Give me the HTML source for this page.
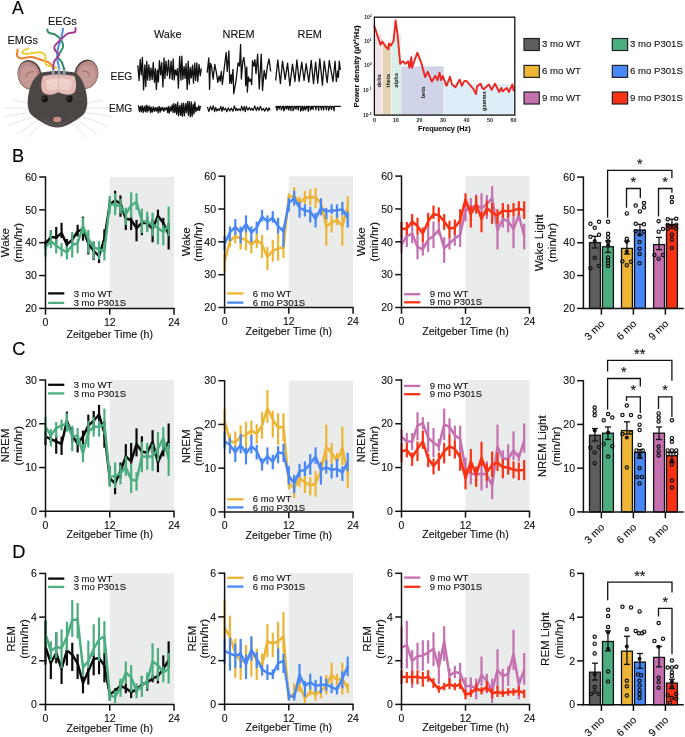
<!DOCTYPE html>
<html><head><meta charset="utf-8"><style>
html,body{margin:0;padding:0;background:#fff;}
svg{display:block;will-change:transform;}
text{font-family:"Liberation Sans", sans-serif;}
</style></head><body>
<svg width="685" height="737" viewBox="0 0 685 737">
<rect width="685" height="737" fill="#fff"/>
<rect x="109.75" y="177.00" width="64.25" height="131.40" fill="#eaebeb"/>
<polyline points="45.50,243.70 50.85,237.10 56.21,237.60 61.56,233.00 66.92,244.70 72.27,239.60 77.62,231.50 82.98,228.90 88.33,243.70 93.69,250.90 99.04,256.00 104.40,238.60 109.75,204.52 115.10,200.44 120.46,203.50 125.81,218.83 131.17,219.85 136.52,228.03 141.88,222.92 147.23,222.92 152.58,229.05 157.94,215.77 163.29,222.92 168.65,234.16" fill="none" stroke="#0a0a0a" stroke-width="2.5" stroke-linejoin="round"/>
<line x1="45.50" y1="240.70" x2="45.50" y2="248.80" stroke="#0a0a0a" stroke-width="2.2"/>
<line x1="50.85" y1="230.40" x2="50.85" y2="243.00" stroke="#0a0a0a" stroke-width="2.2"/>
<line x1="56.21" y1="227.00" x2="56.21" y2="244.00" stroke="#0a0a0a" stroke-width="2.2"/>
<line x1="61.56" y1="222.80" x2="61.56" y2="238.00" stroke="#0a0a0a" stroke-width="2.2"/>
<line x1="66.92" y1="239.00" x2="66.92" y2="250.00" stroke="#0a0a0a" stroke-width="2.2"/>
<line x1="72.27" y1="234.50" x2="72.27" y2="243.70" stroke="#0a0a0a" stroke-width="2.2"/>
<line x1="77.62" y1="224.80" x2="77.62" y2="236.60" stroke="#0a0a0a" stroke-width="2.2"/>
<line x1="82.98" y1="216.60" x2="82.98" y2="240.70" stroke="#0a0a0a" stroke-width="2.2"/>
<line x1="88.33" y1="240.70" x2="88.33" y2="254.50" stroke="#0a0a0a" stroke-width="2.2"/>
<line x1="93.69" y1="241.70" x2="93.69" y2="260.10" stroke="#0a0a0a" stroke-width="2.2"/>
<line x1="99.04" y1="248.80" x2="99.04" y2="263.10" stroke="#0a0a0a" stroke-width="2.2"/>
<line x1="104.40" y1="229.40" x2="104.40" y2="243.70" stroke="#0a0a0a" stroke-width="2.2"/>
<line x1="109.75" y1="199.52" x2="109.75" y2="209.52" stroke="#0a0a0a" stroke-width="2.2"/>
<line x1="115.10" y1="190.73" x2="115.10" y2="209.63" stroke="#0a0a0a" stroke-width="2.2"/>
<line x1="120.46" y1="195.33" x2="120.46" y2="216.79" stroke="#0a0a0a" stroke-width="2.2"/>
<line x1="125.81" y1="210.66" x2="125.81" y2="230.07" stroke="#0a0a0a" stroke-width="2.2"/>
<line x1="131.17" y1="216.79" x2="131.17" y2="230.07" stroke="#0a0a0a" stroke-width="2.2"/>
<line x1="136.52" y1="219.85" x2="136.52" y2="241.31" stroke="#0a0a0a" stroke-width="2.2"/>
<line x1="141.88" y1="213.72" x2="141.88" y2="235.18" stroke="#0a0a0a" stroke-width="2.2"/>
<line x1="147.23" y1="216.79" x2="147.23" y2="229.05" stroke="#0a0a0a" stroke-width="2.2"/>
<line x1="152.58" y1="218.83" x2="152.58" y2="242.33" stroke="#0a0a0a" stroke-width="2.2"/>
<line x1="157.94" y1="209.63" x2="157.94" y2="222.92" stroke="#0a0a0a" stroke-width="2.2"/>
<line x1="163.29" y1="217.81" x2="163.29" y2="228.03" stroke="#0a0a0a" stroke-width="2.2"/>
<line x1="168.65" y1="222.92" x2="168.65" y2="249.49" stroke="#0a0a0a" stroke-width="2.2"/>
<polyline points="45.50,247.22 50.85,241.09 56.21,245.69 61.56,249.27 66.92,252.33 72.27,245.18 77.62,243.14 82.98,226.28 88.33,239.05 93.69,247.22 99.04,249.27 104.40,251.31 109.75,204.52 115.10,204.52 120.46,206.57 125.81,213.72 131.17,205.55 136.52,201.97 141.88,220.87 147.23,221.90 152.58,224.96 157.94,228.03 163.29,232.12 168.65,224.96" fill="none" stroke="#4cae80" stroke-width="2.5" stroke-linejoin="round"/>
<line x1="45.50" y1="245.18" x2="45.50" y2="256.42" stroke="#4cae80" stroke-width="2.2"/>
<line x1="50.85" y1="230.87" x2="50.85" y2="248.25" stroke="#4cae80" stroke-width="2.2"/>
<line x1="56.21" y1="239.05" x2="56.21" y2="253.36" stroke="#4cae80" stroke-width="2.2"/>
<line x1="61.56" y1="243.14" x2="61.56" y2="256.42" stroke="#4cae80" stroke-width="2.2"/>
<line x1="66.92" y1="246.20" x2="66.92" y2="259.49" stroke="#4cae80" stroke-width="2.2"/>
<line x1="72.27" y1="231.90" x2="72.27" y2="257.44" stroke="#4cae80" stroke-width="2.2"/>
<line x1="77.62" y1="239.05" x2="77.62" y2="253.36" stroke="#4cae80" stroke-width="2.2"/>
<line x1="82.98" y1="217.59" x2="82.98" y2="233.94" stroke="#4cae80" stroke-width="2.2"/>
<line x1="88.33" y1="229.85" x2="88.33" y2="253.36" stroke="#4cae80" stroke-width="2.2"/>
<line x1="93.69" y1="241.09" x2="93.69" y2="259.49" stroke="#4cae80" stroke-width="2.2"/>
<line x1="99.04" y1="241.09" x2="99.04" y2="259.49" stroke="#4cae80" stroke-width="2.2"/>
<line x1="104.40" y1="242.12" x2="104.40" y2="260.51" stroke="#4cae80" stroke-width="2.2"/>
<line x1="109.75" y1="195.84" x2="109.75" y2="213.72" stroke="#4cae80" stroke-width="2.2"/>
<line x1="115.10" y1="193.28" x2="115.10" y2="215.25" stroke="#4cae80" stroke-width="2.2"/>
<line x1="120.46" y1="198.90" x2="120.46" y2="213.72" stroke="#4cae80" stroke-width="2.2"/>
<line x1="125.81" y1="207.59" x2="125.81" y2="224.96" stroke="#4cae80" stroke-width="2.2"/>
<line x1="131.17" y1="192.26" x2="131.17" y2="217.81" stroke="#4cae80" stroke-width="2.2"/>
<line x1="136.52" y1="193.28" x2="136.52" y2="209.63" stroke="#4cae80" stroke-width="2.2"/>
<line x1="141.88" y1="208.61" x2="141.88" y2="233.14" stroke="#4cae80" stroke-width="2.2"/>
<line x1="147.23" y1="211.68" x2="147.23" y2="232.12" stroke="#4cae80" stroke-width="2.2"/>
<line x1="152.58" y1="212.70" x2="152.58" y2="236.20" stroke="#4cae80" stroke-width="2.2"/>
<line x1="157.94" y1="217.81" x2="157.94" y2="244.38" stroke="#4cae80" stroke-width="2.2"/>
<line x1="163.29" y1="224.96" x2="163.29" y2="245.40" stroke="#4cae80" stroke-width="2.2"/>
<line x1="168.65" y1="206.57" x2="168.65" y2="236.20" stroke="#4cae80" stroke-width="2.2"/>
<line x1="45.50" y1="176.40" x2="45.50" y2="309.05" stroke="#111" stroke-width="1.5" stroke-linecap="butt"/>
<line x1="44.85" y1="308.40" x2="174.65" y2="308.40" stroke="#111" stroke-width="1.5" stroke-linecap="butt"/>
<line x1="39.20" y1="308.40" x2="45.50" y2="308.40" stroke="#111" stroke-width="1.5" stroke-linecap="butt"/>
<text x="36.90" y="312.10" font-size="10.5" text-anchor="end" font-weight="normal" fill="#111" stroke="#111" stroke-width="0.12">20</text>
<line x1="39.20" y1="275.55" x2="45.50" y2="275.55" stroke="#111" stroke-width="1.5" stroke-linecap="butt"/>
<text x="36.90" y="279.25" font-size="10.5" text-anchor="end" font-weight="normal" fill="#111" stroke="#111" stroke-width="0.12">30</text>
<line x1="39.20" y1="242.70" x2="45.50" y2="242.70" stroke="#111" stroke-width="1.5" stroke-linecap="butt"/>
<text x="36.90" y="246.40" font-size="10.5" text-anchor="end" font-weight="normal" fill="#111" stroke="#111" stroke-width="0.12">40</text>
<line x1="39.20" y1="209.85" x2="45.50" y2="209.85" stroke="#111" stroke-width="1.5" stroke-linecap="butt"/>
<text x="36.90" y="213.55" font-size="10.5" text-anchor="end" font-weight="normal" fill="#111" stroke="#111" stroke-width="0.12">50</text>
<line x1="39.20" y1="177.00" x2="45.50" y2="177.00" stroke="#111" stroke-width="1.5" stroke-linecap="butt"/>
<text x="36.90" y="180.70" font-size="10.5" text-anchor="end" font-weight="normal" fill="#111" stroke="#111" stroke-width="0.12">60</text>
<line x1="45.50" y1="308.40" x2="45.50" y2="314.70" stroke="#111" stroke-width="1.5" stroke-linecap="butt"/>
<text x="45.50" y="325.80" font-size="10.5" text-anchor="middle" font-weight="normal" fill="#111" stroke="#111" stroke-width="0.12">0</text>
<line x1="109.75" y1="308.40" x2="109.75" y2="314.70" stroke="#111" stroke-width="1.5" stroke-linecap="butt"/>
<text x="109.75" y="325.80" font-size="10.5" text-anchor="middle" font-weight="normal" fill="#111" stroke="#111" stroke-width="0.12">12</text>
<line x1="174.00" y1="308.40" x2="174.00" y2="314.70" stroke="#111" stroke-width="1.5" stroke-linecap="butt"/>
<text x="174.00" y="325.80" font-size="10.5" text-anchor="middle" font-weight="normal" fill="#111" stroke="#111" stroke-width="0.12">24</text>
<text x="109.75" y="338.40" font-size="10.6" text-anchor="middle" font-weight="normal" fill="#111" stroke="#111" stroke-width="0.12">Zeitgeber Time (h)</text>
<line x1="48.10" y1="293.40" x2="64.30" y2="293.40" stroke="#0a0a0a" stroke-width="2.3" stroke-linecap="butt"/>
<text x="73.70" y="296.50" font-size="9.5" text-anchor="start" font-weight="normal" fill="#111" stroke="#111" stroke-width="0.12">3 mo WT</text>
<line x1="48.10" y1="302.90" x2="64.30" y2="302.90" stroke="#4cae80" stroke-width="2.3" stroke-linecap="butt"/>
<text x="73.70" y="306.00" font-size="9.5" text-anchor="start" font-weight="normal" fill="#111" stroke="#111" stroke-width="0.12">3 mo P301S</text>
<text x="9.40" y="242.70" font-size="11.5" text-anchor="middle" font-weight="normal" fill="#111" stroke="#111" stroke-width="0.12" transform="rotate(-90 9.40 242.70)">Wake</text>
<text x="21.80" y="242.70" font-size="11.5" text-anchor="middle" font-weight="normal" fill="#111" stroke="#111" stroke-width="0.12" transform="rotate(-90 21.80 242.70)">(min/hr)</text>
<rect x="288.82" y="176.20" width="64.23" height="131.30" fill="#eaebeb"/>
<polyline points="224.60,262.01 229.95,241.02 235.30,236.14 240.66,238.58 246.01,239.80 251.36,244.68 256.71,239.80 262.06,244.68 267.42,256.89 272.77,250.78 278.12,248.34 283.47,247.73 288.82,196.97 294.18,195.75 299.53,202.46 304.88,198.19 310.23,196.97 315.59,197.58 320.94,203.07 326.29,226.26 331.64,222.60 336.99,220.15 342.35,226.26 347.70,206.73" fill="none" stroke="#ecb536" stroke-width="2.5" stroke-linejoin="round"/>
<line x1="224.60" y1="253.22" x2="224.60" y2="272.75" stroke="#ecb536" stroke-width="2.2"/>
<line x1="229.95" y1="236.14" x2="229.95" y2="247.12" stroke="#ecb536" stroke-width="2.2"/>
<line x1="235.30" y1="232.48" x2="235.30" y2="243.46" stroke="#ecb536" stroke-width="2.2"/>
<line x1="240.66" y1="233.70" x2="240.66" y2="249.56" stroke="#ecb536" stroke-width="2.2"/>
<line x1="246.01" y1="230.04" x2="246.01" y2="250.17" stroke="#ecb536" stroke-width="2.2"/>
<line x1="251.36" y1="238.58" x2="251.36" y2="253.22" stroke="#ecb536" stroke-width="2.2"/>
<line x1="256.71" y1="233.70" x2="256.71" y2="248.34" stroke="#ecb536" stroke-width="2.2"/>
<line x1="262.06" y1="234.92" x2="262.06" y2="258.11" stroke="#ecb536" stroke-width="2.2"/>
<line x1="267.42" y1="247.12" x2="267.42" y2="269.94" stroke="#ecb536" stroke-width="2.2"/>
<line x1="272.77" y1="239.80" x2="272.77" y2="261.77" stroke="#ecb536" stroke-width="2.2"/>
<line x1="278.12" y1="233.70" x2="278.12" y2="260.55" stroke="#ecb536" stroke-width="2.2"/>
<line x1="283.47" y1="238.58" x2="283.47" y2="258.11" stroke="#ecb536" stroke-width="2.2"/>
<line x1="288.82" y1="193.31" x2="288.82" y2="199.41" stroke="#ecb536" stroke-width="2.2"/>
<line x1="294.18" y1="187.20" x2="294.18" y2="199.41" stroke="#ecb536" stroke-width="2.2"/>
<line x1="299.53" y1="196.97" x2="299.53" y2="205.51" stroke="#ecb536" stroke-width="2.2"/>
<line x1="304.88" y1="190.87" x2="304.88" y2="204.29" stroke="#ecb536" stroke-width="2.2"/>
<line x1="310.23" y1="189.03" x2="310.23" y2="205.51" stroke="#ecb536" stroke-width="2.2"/>
<line x1="315.59" y1="187.81" x2="315.59" y2="207.95" stroke="#ecb536" stroke-width="2.2"/>
<line x1="320.94" y1="199.41" x2="320.94" y2="212.83" stroke="#ecb536" stroke-width="2.2"/>
<line x1="326.29" y1="215.27" x2="326.29" y2="245.78" stroke="#ecb536" stroke-width="2.2"/>
<line x1="331.64" y1="215.27" x2="331.64" y2="232.36" stroke="#ecb536" stroke-width="2.2"/>
<line x1="336.99" y1="214.05" x2="336.99" y2="225.04" stroke="#ecb536" stroke-width="2.2"/>
<line x1="342.35" y1="215.27" x2="342.35" y2="245.78" stroke="#ecb536" stroke-width="2.2"/>
<line x1="347.70" y1="196.36" x2="347.70" y2="216.49" stroke="#ecb536" stroke-width="2.2"/>
<polyline points="224.60,243.46 229.95,232.48 235.30,226.99 240.66,232.48 246.01,223.93 251.36,232.48 256.71,227.60 262.06,216.61 267.42,221.49 272.77,217.83 278.12,226.38 283.47,231.26 288.82,203.07 294.18,198.19 299.53,207.95 304.88,210.39 310.23,211.61 315.59,218.93 320.94,207.95 326.29,211.61 331.64,210.39 336.99,210.39 342.35,209.17 347.70,217.71" fill="none" stroke="#4a87f6" stroke-width="2.5" stroke-linejoin="round"/>
<line x1="224.60" y1="236.14" x2="224.60" y2="250.78" stroke="#4a87f6" stroke-width="2.2"/>
<line x1="229.95" y1="226.38" x2="229.95" y2="241.02" stroke="#4a87f6" stroke-width="2.2"/>
<line x1="235.30" y1="219.05" x2="235.30" y2="234.92" stroke="#4a87f6" stroke-width="2.2"/>
<line x1="240.66" y1="226.38" x2="240.66" y2="243.46" stroke="#4a87f6" stroke-width="2.2"/>
<line x1="246.01" y1="215.39" x2="246.01" y2="232.48" stroke="#4a87f6" stroke-width="2.2"/>
<line x1="251.36" y1="226.38" x2="251.36" y2="242.24" stroke="#4a87f6" stroke-width="2.2"/>
<line x1="256.71" y1="221.49" x2="256.71" y2="233.70" stroke="#4a87f6" stroke-width="2.2"/>
<line x1="262.06" y1="209.90" x2="262.06" y2="221.49" stroke="#4a87f6" stroke-width="2.2"/>
<line x1="267.42" y1="215.39" x2="267.42" y2="230.04" stroke="#4a87f6" stroke-width="2.2"/>
<line x1="272.77" y1="211.12" x2="272.77" y2="222.71" stroke="#4a87f6" stroke-width="2.2"/>
<line x1="278.12" y1="217.83" x2="278.12" y2="233.70" stroke="#4a87f6" stroke-width="2.2"/>
<line x1="283.47" y1="226.38" x2="283.47" y2="247.12" stroke="#4a87f6" stroke-width="2.2"/>
<line x1="288.82" y1="198.19" x2="288.82" y2="211.61" stroke="#4a87f6" stroke-width="2.2"/>
<line x1="294.18" y1="190.87" x2="294.18" y2="205.51" stroke="#4a87f6" stroke-width="2.2"/>
<line x1="299.53" y1="201.85" x2="299.53" y2="217.71" stroke="#4a87f6" stroke-width="2.2"/>
<line x1="304.88" y1="204.29" x2="304.88" y2="216.49" stroke="#4a87f6" stroke-width="2.2"/>
<line x1="310.23" y1="206.73" x2="310.23" y2="222.60" stroke="#4a87f6" stroke-width="2.2"/>
<line x1="315.59" y1="212.83" x2="315.59" y2="227.48" stroke="#4a87f6" stroke-width="2.2"/>
<line x1="320.94" y1="198.19" x2="320.94" y2="215.27" stroke="#4a87f6" stroke-width="2.2"/>
<line x1="326.29" y1="207.95" x2="326.29" y2="218.93" stroke="#4a87f6" stroke-width="2.2"/>
<line x1="331.64" y1="204.29" x2="331.64" y2="214.05" stroke="#4a87f6" stroke-width="2.2"/>
<line x1="336.99" y1="204.29" x2="336.99" y2="217.71" stroke="#4a87f6" stroke-width="2.2"/>
<line x1="342.35" y1="201.85" x2="342.35" y2="215.27" stroke="#4a87f6" stroke-width="2.2"/>
<line x1="347.70" y1="211.61" x2="347.70" y2="227.48" stroke="#4a87f6" stroke-width="2.2"/>
<line x1="224.60" y1="175.60" x2="224.60" y2="308.15" stroke="#111" stroke-width="1.5" stroke-linecap="butt"/>
<line x1="223.95" y1="307.50" x2="353.70" y2="307.50" stroke="#111" stroke-width="1.5" stroke-linecap="butt"/>
<line x1="218.30" y1="307.50" x2="224.60" y2="307.50" stroke="#111" stroke-width="1.5" stroke-linecap="butt"/>
<text x="216.00" y="311.20" font-size="10.5" text-anchor="end" font-weight="normal" fill="#111" stroke="#111" stroke-width="0.12">20</text>
<line x1="218.30" y1="274.68" x2="224.60" y2="274.68" stroke="#111" stroke-width="1.5" stroke-linecap="butt"/>
<text x="216.00" y="278.38" font-size="10.5" text-anchor="end" font-weight="normal" fill="#111" stroke="#111" stroke-width="0.12">30</text>
<line x1="218.30" y1="241.85" x2="224.60" y2="241.85" stroke="#111" stroke-width="1.5" stroke-linecap="butt"/>
<text x="216.00" y="245.55" font-size="10.5" text-anchor="end" font-weight="normal" fill="#111" stroke="#111" stroke-width="0.12">40</text>
<line x1="218.30" y1="209.02" x2="224.60" y2="209.02" stroke="#111" stroke-width="1.5" stroke-linecap="butt"/>
<text x="216.00" y="212.72" font-size="10.5" text-anchor="end" font-weight="normal" fill="#111" stroke="#111" stroke-width="0.12">50</text>
<line x1="218.30" y1="176.20" x2="224.60" y2="176.20" stroke="#111" stroke-width="1.5" stroke-linecap="butt"/>
<text x="216.00" y="179.90" font-size="10.5" text-anchor="end" font-weight="normal" fill="#111" stroke="#111" stroke-width="0.12">60</text>
<line x1="224.60" y1="307.50" x2="224.60" y2="313.80" stroke="#111" stroke-width="1.5" stroke-linecap="butt"/>
<text x="224.60" y="325.10" font-size="10.5" text-anchor="middle" font-weight="normal" fill="#111" stroke="#111" stroke-width="0.12">0</text>
<line x1="288.82" y1="307.50" x2="288.82" y2="313.80" stroke="#111" stroke-width="1.5" stroke-linecap="butt"/>
<text x="288.82" y="325.10" font-size="10.5" text-anchor="middle" font-weight="normal" fill="#111" stroke="#111" stroke-width="0.12">12</text>
<line x1="353.05" y1="307.50" x2="353.05" y2="313.80" stroke="#111" stroke-width="1.5" stroke-linecap="butt"/>
<text x="353.05" y="325.10" font-size="10.5" text-anchor="middle" font-weight="normal" fill="#111" stroke="#111" stroke-width="0.12">24</text>
<text x="288.82" y="334.50" font-size="10.6" text-anchor="middle" font-weight="normal" fill="#111" stroke="#111" stroke-width="0.12">Zeitgeber Time (h)</text>
<line x1="227.20" y1="293.40" x2="243.40" y2="293.40" stroke="#ecb536" stroke-width="2.3" stroke-linecap="butt"/>
<text x="252.80" y="296.50" font-size="9.5" text-anchor="start" font-weight="normal" fill="#111" stroke="#111" stroke-width="0.12">6 mo WT</text>
<line x1="227.20" y1="302.60" x2="243.40" y2="302.60" stroke="#4a87f6" stroke-width="2.3" stroke-linecap="butt"/>
<text x="252.80" y="305.70" font-size="9.5" text-anchor="start" font-weight="normal" fill="#111" stroke="#111" stroke-width="0.12">6 mo P301S</text>
<text x="189.90" y="241.85" font-size="11.5" text-anchor="middle" font-weight="normal" fill="#111" stroke="#111" stroke-width="0.12" transform="rotate(-90 189.90 241.85)">Wake</text>
<text x="201.60" y="241.85" font-size="11.5" text-anchor="middle" font-weight="normal" fill="#111" stroke="#111" stroke-width="0.12" transform="rotate(-90 201.60 241.85)">(min/hr)</text>
<rect x="465.50" y="176.10" width="64.00" height="131.40" fill="#eaebeb"/>
<polyline points="401.50,244.56 406.83,236.02 412.17,233.58 417.50,247.00 422.83,249.44 428.17,239.68 433.50,236.02 438.83,229.92 444.17,248.22 449.50,243.34 454.83,238.46 460.17,234.80 465.50,210.39 470.83,207.95 476.17,205.51 481.50,207.95 486.83,204.29 492.17,198.19 497.50,229.92 502.83,218.93 508.17,221.38 513.50,228.70 518.83,215.27 524.17,236.02" fill="none" stroke="#c571b0" stroke-width="2.5" stroke-linejoin="round"/>
<line x1="401.50" y1="236.02" x2="401.50" y2="253.11" stroke="#c571b0" stroke-width="2.2"/>
<line x1="406.83" y1="228.70" x2="406.83" y2="247.00" stroke="#c571b0" stroke-width="2.2"/>
<line x1="412.17" y1="226.26" x2="412.17" y2="243.34" stroke="#c571b0" stroke-width="2.2"/>
<line x1="417.50" y1="234.80" x2="417.50" y2="259.21" stroke="#c571b0" stroke-width="2.2"/>
<line x1="422.83" y1="242.12" x2="422.83" y2="255.55" stroke="#c571b0" stroke-width="2.2"/>
<line x1="428.17" y1="225.04" x2="428.17" y2="251.89" stroke="#c571b0" stroke-width="2.2"/>
<line x1="433.50" y1="221.38" x2="433.50" y2="248.22" stroke="#c571b0" stroke-width="2.2"/>
<line x1="438.83" y1="222.60" x2="438.83" y2="234.80" stroke="#c571b0" stroke-width="2.2"/>
<line x1="444.17" y1="237.24" x2="444.17" y2="262.87" stroke="#c571b0" stroke-width="2.2"/>
<line x1="449.50" y1="238.46" x2="449.50" y2="249.44" stroke="#c571b0" stroke-width="2.2"/>
<line x1="454.83" y1="229.92" x2="454.83" y2="245.78" stroke="#c571b0" stroke-width="2.2"/>
<line x1="460.17" y1="223.82" x2="460.17" y2="247.00" stroke="#c571b0" stroke-width="2.2"/>
<line x1="465.50" y1="199.41" x2="465.50" y2="221.38" stroke="#c571b0" stroke-width="2.2"/>
<line x1="470.83" y1="198.19" x2="470.83" y2="220.15" stroke="#c571b0" stroke-width="2.2"/>
<line x1="476.17" y1="194.53" x2="476.17" y2="214.05" stroke="#c571b0" stroke-width="2.2"/>
<line x1="481.50" y1="193.31" x2="481.50" y2="212.83" stroke="#c571b0" stroke-width="2.2"/>
<line x1="486.83" y1="195.14" x2="486.83" y2="218.93" stroke="#c571b0" stroke-width="2.2"/>
<line x1="492.17" y1="185.98" x2="492.17" y2="209.17" stroke="#c571b0" stroke-width="2.2"/>
<line x1="497.50" y1="215.27" x2="497.50" y2="249.44" stroke="#c571b0" stroke-width="2.2"/>
<line x1="502.83" y1="215.27" x2="502.83" y2="227.48" stroke="#c571b0" stroke-width="2.2"/>
<line x1="508.17" y1="214.05" x2="508.17" y2="232.36" stroke="#c571b0" stroke-width="2.2"/>
<line x1="513.50" y1="216.49" x2="513.50" y2="248.22" stroke="#c571b0" stroke-width="2.2"/>
<line x1="518.83" y1="211.61" x2="518.83" y2="218.93" stroke="#c571b0" stroke-width="2.2"/>
<line x1="524.17" y1="223.82" x2="524.17" y2="249.44" stroke="#c571b0" stroke-width="2.2"/>
<polyline points="401.50,228.70 406.83,228.70 412.17,221.38 417.50,226.26 422.83,233.58 428.17,221.38 433.50,214.05 438.83,215.27 444.17,221.38 449.50,228.70 454.83,227.48 460.17,220.15 465.50,199.41 470.83,214.05 476.17,204.29 481.50,218.93 486.83,207.95 492.17,212.83 497.50,215.27 502.83,210.39 508.17,211.61 513.50,210.39 518.83,208.56 524.17,210.39" fill="none" stroke="#f93214" stroke-width="2.5" stroke-linejoin="round"/>
<line x1="401.50" y1="221.99" x2="401.50" y2="237.24" stroke="#f93214" stroke-width="2.2"/>
<line x1="406.83" y1="221.99" x2="406.83" y2="234.80" stroke="#f93214" stroke-width="2.2"/>
<line x1="412.17" y1="214.05" x2="412.17" y2="226.26" stroke="#f93214" stroke-width="2.2"/>
<line x1="417.50" y1="217.71" x2="417.50" y2="234.80" stroke="#f93214" stroke-width="2.2"/>
<line x1="422.83" y1="227.48" x2="422.83" y2="242.12" stroke="#f93214" stroke-width="2.2"/>
<line x1="428.17" y1="212.83" x2="428.17" y2="226.26" stroke="#f93214" stroke-width="2.2"/>
<line x1="433.50" y1="205.51" x2="433.50" y2="218.93" stroke="#f93214" stroke-width="2.2"/>
<line x1="438.83" y1="207.34" x2="438.83" y2="222.60" stroke="#f93214" stroke-width="2.2"/>
<line x1="444.17" y1="214.05" x2="444.17" y2="229.92" stroke="#f93214" stroke-width="2.2"/>
<line x1="449.50" y1="220.77" x2="449.50" y2="238.46" stroke="#f93214" stroke-width="2.2"/>
<line x1="454.83" y1="219.54" x2="454.83" y2="234.80" stroke="#f93214" stroke-width="2.2"/>
<line x1="460.17" y1="209.17" x2="460.17" y2="223.82" stroke="#f93214" stroke-width="2.2"/>
<line x1="465.50" y1="193.31" x2="465.50" y2="206.73" stroke="#f93214" stroke-width="2.2"/>
<line x1="470.83" y1="205.51" x2="470.83" y2="227.48" stroke="#f93214" stroke-width="2.2"/>
<line x1="476.17" y1="195.75" x2="476.17" y2="212.83" stroke="#f93214" stroke-width="2.2"/>
<line x1="481.50" y1="211.61" x2="481.50" y2="232.36" stroke="#f93214" stroke-width="2.2"/>
<line x1="486.83" y1="200.63" x2="486.83" y2="215.27" stroke="#f93214" stroke-width="2.2"/>
<line x1="492.17" y1="203.07" x2="492.17" y2="223.82" stroke="#f93214" stroke-width="2.2"/>
<line x1="497.50" y1="209.17" x2="497.50" y2="223.82" stroke="#f93214" stroke-width="2.2"/>
<line x1="502.83" y1="203.07" x2="502.83" y2="217.71" stroke="#f93214" stroke-width="2.2"/>
<line x1="508.17" y1="204.29" x2="508.17" y2="217.71" stroke="#f93214" stroke-width="2.2"/>
<line x1="513.50" y1="203.07" x2="513.50" y2="216.49" stroke="#f93214" stroke-width="2.2"/>
<line x1="518.83" y1="201.24" x2="518.83" y2="215.27" stroke="#f93214" stroke-width="2.2"/>
<line x1="524.17" y1="201.24" x2="524.17" y2="218.93" stroke="#f93214" stroke-width="2.2"/>
<line x1="401.50" y1="175.50" x2="401.50" y2="308.15" stroke="#111" stroke-width="1.5" stroke-linecap="butt"/>
<line x1="400.85" y1="307.50" x2="530.15" y2="307.50" stroke="#111" stroke-width="1.5" stroke-linecap="butt"/>
<line x1="395.20" y1="307.50" x2="401.50" y2="307.50" stroke="#111" stroke-width="1.5" stroke-linecap="butt"/>
<text x="392.90" y="311.20" font-size="10.5" text-anchor="end" font-weight="normal" fill="#111" stroke="#111" stroke-width="0.12">20</text>
<line x1="395.20" y1="274.65" x2="401.50" y2="274.65" stroke="#111" stroke-width="1.5" stroke-linecap="butt"/>
<text x="392.90" y="278.35" font-size="10.5" text-anchor="end" font-weight="normal" fill="#111" stroke="#111" stroke-width="0.12">30</text>
<line x1="395.20" y1="241.80" x2="401.50" y2="241.80" stroke="#111" stroke-width="1.5" stroke-linecap="butt"/>
<text x="392.90" y="245.50" font-size="10.5" text-anchor="end" font-weight="normal" fill="#111" stroke="#111" stroke-width="0.12">40</text>
<line x1="395.20" y1="208.95" x2="401.50" y2="208.95" stroke="#111" stroke-width="1.5" stroke-linecap="butt"/>
<text x="392.90" y="212.65" font-size="10.5" text-anchor="end" font-weight="normal" fill="#111" stroke="#111" stroke-width="0.12">50</text>
<line x1="395.20" y1="176.10" x2="401.50" y2="176.10" stroke="#111" stroke-width="1.5" stroke-linecap="butt"/>
<text x="392.90" y="179.80" font-size="10.5" text-anchor="end" font-weight="normal" fill="#111" stroke="#111" stroke-width="0.12">60</text>
<line x1="401.50" y1="307.50" x2="401.50" y2="313.80" stroke="#111" stroke-width="1.5" stroke-linecap="butt"/>
<text x="401.50" y="325.10" font-size="10.5" text-anchor="middle" font-weight="normal" fill="#111" stroke="#111" stroke-width="0.12">0</text>
<line x1="465.50" y1="307.50" x2="465.50" y2="313.80" stroke="#111" stroke-width="1.5" stroke-linecap="butt"/>
<text x="465.50" y="325.10" font-size="10.5" text-anchor="middle" font-weight="normal" fill="#111" stroke="#111" stroke-width="0.12">12</text>
<line x1="529.50" y1="307.50" x2="529.50" y2="313.80" stroke="#111" stroke-width="1.5" stroke-linecap="butt"/>
<text x="529.50" y="325.10" font-size="10.5" text-anchor="middle" font-weight="normal" fill="#111" stroke="#111" stroke-width="0.12">24</text>
<text x="465.50" y="334.50" font-size="10.6" text-anchor="middle" font-weight="normal" fill="#111" stroke="#111" stroke-width="0.12">Zeitgeber Time (h)</text>
<line x1="404.10" y1="294.20" x2="420.30" y2="294.20" stroke="#c571b0" stroke-width="2.3" stroke-linecap="butt"/>
<text x="429.70" y="297.30" font-size="9.5" text-anchor="start" font-weight="normal" fill="#111" stroke="#111" stroke-width="0.12">9 mo WT</text>
<line x1="404.10" y1="302.30" x2="420.30" y2="302.30" stroke="#f93214" stroke-width="2.3" stroke-linecap="butt"/>
<text x="429.70" y="305.40" font-size="9.5" text-anchor="start" font-weight="normal" fill="#111" stroke="#111" stroke-width="0.12">9 mo P301S</text>
<text x="364.80" y="241.80" font-size="11.5" text-anchor="middle" font-weight="normal" fill="#111" stroke="#111" stroke-width="0.12" transform="rotate(-90 364.80 241.80)">Wake</text>
<text x="378.30" y="241.80" font-size="11.5" text-anchor="middle" font-weight="normal" fill="#111" stroke="#111" stroke-width="0.12" transform="rotate(-90 378.30 241.80)">(min/hr)</text>
<rect x="109.75" y="380.00" width="64.25" height="131.30" fill="#eaebeb"/>
<polyline points="45.50,436.61 50.85,439.05 56.21,441.49 61.56,443.93 66.92,420.75 72.27,435.39 77.62,443.93 82.98,436.61 88.33,425.63 93.69,420.75 99.04,414.64 104.40,432.95 109.75,478.34 115.10,483.22 120.46,471.02 125.81,456.38 131.17,461.26 136.52,444.17 141.88,451.49 147.23,452.71 152.58,441.73 157.94,462.48 163.29,450.27 168.65,441.73" fill="none" stroke="#0a0a0a" stroke-width="2.5" stroke-linejoin="round"/>
<line x1="45.50" y1="430.51" x2="45.50" y2="445.15" stroke="#0a0a0a" stroke-width="2.2"/>
<line x1="50.85" y1="434.17" x2="50.85" y2="442.71" stroke="#0a0a0a" stroke-width="2.2"/>
<line x1="56.21" y1="435.39" x2="56.21" y2="453.70" stroke="#0a0a0a" stroke-width="2.2"/>
<line x1="61.56" y1="436.61" x2="61.56" y2="454.92" stroke="#0a0a0a" stroke-width="2.2"/>
<line x1="66.92" y1="411.59" x2="66.92" y2="428.07" stroke="#0a0a0a" stroke-width="2.2"/>
<line x1="72.27" y1="428.07" x2="72.27" y2="442.71" stroke="#0a0a0a" stroke-width="2.2"/>
<line x1="77.62" y1="437.83" x2="77.62" y2="452.48" stroke="#0a0a0a" stroke-width="2.2"/>
<line x1="82.98" y1="430.51" x2="82.98" y2="448.82" stroke="#0a0a0a" stroke-width="2.2"/>
<line x1="88.33" y1="414.64" x2="88.33" y2="434.17" stroke="#0a0a0a" stroke-width="2.2"/>
<line x1="93.69" y1="410.98" x2="93.69" y2="430.51" stroke="#0a0a0a" stroke-width="2.2"/>
<line x1="99.04" y1="404.88" x2="99.04" y2="423.19" stroke="#0a0a0a" stroke-width="2.2"/>
<line x1="104.40" y1="420.75" x2="104.40" y2="447.60" stroke="#0a0a0a" stroke-width="2.2"/>
<line x1="109.75" y1="466.14" x2="109.75" y2="485.67" stroke="#0a0a0a" stroke-width="2.2"/>
<line x1="115.10" y1="475.90" x2="115.10" y2="494.21" stroke="#0a0a0a" stroke-width="2.2"/>
<line x1="120.46" y1="462.48" x2="120.46" y2="478.34" stroke="#0a0a0a" stroke-width="2.2"/>
<line x1="125.81" y1="444.17" x2="125.81" y2="467.36" stroke="#0a0a0a" stroke-width="2.2"/>
<line x1="131.17" y1="442.95" x2="131.17" y2="463.70" stroke="#0a0a0a" stroke-width="2.2"/>
<line x1="136.52" y1="428.31" x2="136.52" y2="456.38" stroke="#0a0a0a" stroke-width="2.2"/>
<line x1="141.88" y1="436.24" x2="141.88" y2="456.38" stroke="#0a0a0a" stroke-width="2.2"/>
<line x1="147.23" y1="446.61" x2="147.23" y2="458.82" stroke="#0a0a0a" stroke-width="2.2"/>
<line x1="152.58" y1="430.14" x2="152.58" y2="452.71" stroke="#0a0a0a" stroke-width="2.2"/>
<line x1="157.94" y1="452.71" x2="157.94" y2="472.24" stroke="#0a0a0a" stroke-width="2.2"/>
<line x1="163.29" y1="444.17" x2="163.29" y2="456.38" stroke="#0a0a0a" stroke-width="2.2"/>
<line x1="168.65" y1="423.42" x2="168.65" y2="449.05" stroke="#0a0a0a" stroke-width="2.2"/>
<polyline points="45.50,426.85 50.85,435.39 56.21,428.07 61.56,425.63 66.92,423.19 72.27,436.61 77.62,435.39 82.98,453.70 88.33,431.73 93.69,426.85 99.04,426.85 104.40,424.41 109.75,477.12 115.10,475.90 120.46,473.46 125.81,467.36 131.17,479.56 136.52,480.78 141.88,456.38 147.23,456.38 152.58,456.38 157.94,449.05 163.29,438.07 168.65,458.82" fill="none" stroke="#4cae80" stroke-width="2.5" stroke-linejoin="round"/>
<line x1="45.50" y1="417.09" x2="45.50" y2="437.83" stroke="#4cae80" stroke-width="2.2"/>
<line x1="50.85" y1="429.29" x2="50.85" y2="446.38" stroke="#4cae80" stroke-width="2.2"/>
<line x1="56.21" y1="421.97" x2="56.21" y2="437.83" stroke="#4cae80" stroke-width="2.2"/>
<line x1="61.56" y1="419.53" x2="61.56" y2="430.51" stroke="#4cae80" stroke-width="2.2"/>
<line x1="66.92" y1="413.42" x2="66.92" y2="431.73" stroke="#4cae80" stroke-width="2.2"/>
<line x1="72.27" y1="425.63" x2="72.27" y2="451.26" stroke="#4cae80" stroke-width="2.2"/>
<line x1="77.62" y1="428.07" x2="77.62" y2="445.15" stroke="#4cae80" stroke-width="2.2"/>
<line x1="82.98" y1="443.93" x2="82.98" y2="462.24" stroke="#4cae80" stroke-width="2.2"/>
<line x1="88.33" y1="420.75" x2="88.33" y2="447.60" stroke="#4cae80" stroke-width="2.2"/>
<line x1="93.69" y1="417.09" x2="93.69" y2="436.61" stroke="#4cae80" stroke-width="2.2"/>
<line x1="99.04" y1="420.75" x2="99.04" y2="436.61" stroke="#4cae80" stroke-width="2.2"/>
<line x1="104.40" y1="408.54" x2="104.40" y2="434.17" stroke="#4cae80" stroke-width="2.2"/>
<line x1="109.75" y1="466.14" x2="109.75" y2="486.89" stroke="#4cae80" stroke-width="2.2"/>
<line x1="115.10" y1="462.48" x2="115.10" y2="488.11" stroke="#4cae80" stroke-width="2.2"/>
<line x1="120.46" y1="464.92" x2="120.46" y2="484.44" stroke="#4cae80" stroke-width="2.2"/>
<line x1="125.81" y1="456.38" x2="125.81" y2="475.90" stroke="#4cae80" stroke-width="2.2"/>
<line x1="131.17" y1="463.70" x2="131.17" y2="492.99" stroke="#4cae80" stroke-width="2.2"/>
<line x1="136.52" y1="472.24" x2="136.52" y2="490.55" stroke="#4cae80" stroke-width="2.2"/>
<line x1="141.88" y1="441.73" x2="141.88" y2="472.24" stroke="#4cae80" stroke-width="2.2"/>
<line x1="147.23" y1="442.95" x2="147.23" y2="469.80" stroke="#4cae80" stroke-width="2.2"/>
<line x1="152.58" y1="444.17" x2="152.58" y2="471.02" stroke="#4cae80" stroke-width="2.2"/>
<line x1="157.94" y1="431.97" x2="157.94" y2="461.26" stroke="#4cae80" stroke-width="2.2"/>
<line x1="163.29" y1="427.09" x2="163.29" y2="450.27" stroke="#4cae80" stroke-width="2.2"/>
<line x1="168.65" y1="442.95" x2="168.65" y2="475.90" stroke="#4cae80" stroke-width="2.2"/>
<line x1="45.50" y1="379.40" x2="45.50" y2="511.95" stroke="#111" stroke-width="1.5" stroke-linecap="butt"/>
<line x1="44.85" y1="511.30" x2="174.65" y2="511.30" stroke="#111" stroke-width="1.5" stroke-linecap="butt"/>
<line x1="39.20" y1="511.30" x2="45.50" y2="511.30" stroke="#111" stroke-width="1.5" stroke-linecap="butt"/>
<text x="36.90" y="515.00" font-size="10.5" text-anchor="end" font-weight="normal" fill="#111" stroke="#111" stroke-width="0.12">0</text>
<line x1="39.20" y1="467.53" x2="45.50" y2="467.53" stroke="#111" stroke-width="1.5" stroke-linecap="butt"/>
<text x="36.90" y="471.23" font-size="10.5" text-anchor="end" font-weight="normal" fill="#111" stroke="#111" stroke-width="0.12">10</text>
<line x1="39.20" y1="423.77" x2="45.50" y2="423.77" stroke="#111" stroke-width="1.5" stroke-linecap="butt"/>
<text x="36.90" y="427.47" font-size="10.5" text-anchor="end" font-weight="normal" fill="#111" stroke="#111" stroke-width="0.12">20</text>
<line x1="39.20" y1="380.00" x2="45.50" y2="380.00" stroke="#111" stroke-width="1.5" stroke-linecap="butt"/>
<text x="36.90" y="383.70" font-size="10.5" text-anchor="end" font-weight="normal" fill="#111" stroke="#111" stroke-width="0.12">30</text>
<line x1="45.50" y1="511.30" x2="45.50" y2="517.60" stroke="#111" stroke-width="1.5" stroke-linecap="butt"/>
<text x="45.50" y="528.60" font-size="10.5" text-anchor="middle" font-weight="normal" fill="#111" stroke="#111" stroke-width="0.12">0</text>
<line x1="109.75" y1="511.30" x2="109.75" y2="517.60" stroke="#111" stroke-width="1.5" stroke-linecap="butt"/>
<text x="109.75" y="528.60" font-size="10.5" text-anchor="middle" font-weight="normal" fill="#111" stroke="#111" stroke-width="0.12">12</text>
<line x1="174.00" y1="511.30" x2="174.00" y2="517.60" stroke="#111" stroke-width="1.5" stroke-linecap="butt"/>
<text x="174.00" y="528.60" font-size="10.5" text-anchor="middle" font-weight="normal" fill="#111" stroke="#111" stroke-width="0.12">24</text>
<text x="109.75" y="537.90" font-size="10.6" text-anchor="middle" font-weight="normal" fill="#111" stroke="#111" stroke-width="0.12">Zeitgeber Time (h)</text>
<line x1="48.10" y1="384.80" x2="64.30" y2="384.80" stroke="#0a0a0a" stroke-width="2.3" stroke-linecap="butt"/>
<text x="73.70" y="387.90" font-size="9.5" text-anchor="start" font-weight="normal" fill="#111" stroke="#111" stroke-width="0.12">3 mo WT</text>
<line x1="48.10" y1="393.40" x2="64.30" y2="393.40" stroke="#4cae80" stroke-width="2.3" stroke-linecap="butt"/>
<text x="73.70" y="396.50" font-size="9.5" text-anchor="start" font-weight="normal" fill="#111" stroke="#111" stroke-width="0.12">3 mo P301S</text>
<text x="9.40" y="445.65" font-size="11.5" text-anchor="middle" font-weight="normal" fill="#111" stroke="#111" stroke-width="0.12" transform="rotate(-90 9.40 445.65)">NREM</text>
<text x="21.80" y="445.65" font-size="11.5" text-anchor="middle" font-weight="normal" fill="#111" stroke="#111" stroke-width="0.12" transform="rotate(-90 21.80 445.65)">(min/hr)</text>
<rect x="288.82" y="380.70" width="64.23" height="131.20" fill="#eaebeb"/>
<polyline points="224.60,420.51 229.95,441.26 235.30,442.48 240.66,436.38 246.01,435.15 251.36,430.27 256.71,433.93 262.06,425.39 267.42,408.31 272.77,419.29 278.12,427.83 283.47,426.61 288.82,483.34 294.18,488.22 299.53,478.46 304.88,482.12 310.23,485.78 315.59,483.34 320.94,471.14 326.29,446.73 331.64,452.83 336.99,461.38 342.35,447.95 347.70,473.58" fill="none" stroke="#ecb536" stroke-width="2.5" stroke-linejoin="round"/>
<line x1="224.60" y1="409.53" x2="224.60" y2="430.27" stroke="#ecb536" stroke-width="2.2"/>
<line x1="229.95" y1="433.93" x2="229.95" y2="453.46" stroke="#ecb536" stroke-width="2.2"/>
<line x1="235.30" y1="431.49" x2="235.30" y2="447.36" stroke="#ecb536" stroke-width="2.2"/>
<line x1="240.66" y1="425.39" x2="240.66" y2="444.92" stroke="#ecb536" stroke-width="2.2"/>
<line x1="246.01" y1="421.73" x2="246.01" y2="447.36" stroke="#ecb536" stroke-width="2.2"/>
<line x1="251.36" y1="420.51" x2="251.36" y2="438.82" stroke="#ecb536" stroke-width="2.2"/>
<line x1="256.71" y1="424.17" x2="256.71" y2="443.70" stroke="#ecb536" stroke-width="2.2"/>
<line x1="262.06" y1="411.97" x2="262.06" y2="438.82" stroke="#ecb536" stroke-width="2.2"/>
<line x1="267.42" y1="390.00" x2="267.42" y2="422.95" stroke="#ecb536" stroke-width="2.2"/>
<line x1="272.77" y1="410.75" x2="272.77" y2="437.60" stroke="#ecb536" stroke-width="2.2"/>
<line x1="278.12" y1="413.19" x2="278.12" y2="444.92" stroke="#ecb536" stroke-width="2.2"/>
<line x1="283.47" y1="413.19" x2="283.47" y2="441.26" stroke="#ecb536" stroke-width="2.2"/>
<line x1="288.82" y1="476.02" x2="288.82" y2="489.44" stroke="#ecb536" stroke-width="2.2"/>
<line x1="294.18" y1="478.46" x2="294.18" y2="497.99" stroke="#ecb536" stroke-width="2.2"/>
<line x1="299.53" y1="472.36" x2="299.53" y2="487.00" stroke="#ecb536" stroke-width="2.2"/>
<line x1="304.88" y1="473.58" x2="304.88" y2="493.11" stroke="#ecb536" stroke-width="2.2"/>
<line x1="310.23" y1="477.24" x2="310.23" y2="495.55" stroke="#ecb536" stroke-width="2.2"/>
<line x1="315.59" y1="471.14" x2="315.59" y2="496.77" stroke="#ecb536" stroke-width="2.2"/>
<line x1="320.94" y1="461.38" x2="320.94" y2="479.68" stroke="#ecb536" stroke-width="2.2"/>
<line x1="326.29" y1="424.76" x2="326.29" y2="463.82" stroke="#ecb536" stroke-width="2.2"/>
<line x1="331.64" y1="443.07" x2="331.64" y2="463.82" stroke="#ecb536" stroke-width="2.2"/>
<line x1="336.99" y1="452.83" x2="336.99" y2="467.48" stroke="#ecb536" stroke-width="2.2"/>
<line x1="342.35" y1="426.59" x2="342.35" y2="465.04" stroke="#ecb536" stroke-width="2.2"/>
<line x1="347.70" y1="465.04" x2="347.70" y2="488.22" stroke="#ecb536" stroke-width="2.2"/>
<polyline points="224.60,441.26 229.95,444.92 235.30,452.24 240.66,444.92 246.01,453.46 251.36,446.14 256.71,451.02 262.06,463.22 267.42,455.90 272.77,462.00 278.12,452.24 283.47,453.46 288.82,476.02 294.18,483.34 299.53,471.14 304.88,469.92 310.23,463.82 315.59,456.49 320.94,469.92 326.29,467.48 331.64,469.92 336.99,468.70 342.35,472.36 347.70,462.60" fill="none" stroke="#4a87f6" stroke-width="2.5" stroke-linejoin="round"/>
<line x1="224.60" y1="431.49" x2="224.60" y2="448.58" stroke="#4a87f6" stroke-width="2.2"/>
<line x1="229.95" y1="437.60" x2="229.95" y2="453.46" stroke="#4a87f6" stroke-width="2.2"/>
<line x1="235.30" y1="446.14" x2="235.30" y2="462.00" stroke="#4a87f6" stroke-width="2.2"/>
<line x1="240.66" y1="433.93" x2="240.66" y2="453.46" stroke="#4a87f6" stroke-width="2.2"/>
<line x1="246.01" y1="447.36" x2="246.01" y2="464.44" stroke="#4a87f6" stroke-width="2.2"/>
<line x1="251.36" y1="435.15" x2="251.36" y2="453.46" stroke="#4a87f6" stroke-width="2.2"/>
<line x1="256.71" y1="444.92" x2="256.71" y2="459.56" stroke="#4a87f6" stroke-width="2.2"/>
<line x1="262.06" y1="458.34" x2="262.06" y2="470.55" stroke="#4a87f6" stroke-width="2.2"/>
<line x1="267.42" y1="447.36" x2="267.42" y2="464.44" stroke="#4a87f6" stroke-width="2.2"/>
<line x1="272.77" y1="454.68" x2="272.77" y2="469.33" stroke="#4a87f6" stroke-width="2.2"/>
<line x1="278.12" y1="446.14" x2="278.12" y2="463.22" stroke="#4a87f6" stroke-width="2.2"/>
<line x1="283.47" y1="443.70" x2="283.47" y2="462.00" stroke="#4a87f6" stroke-width="2.2"/>
<line x1="288.82" y1="466.26" x2="288.82" y2="484.56" stroke="#4a87f6" stroke-width="2.2"/>
<line x1="294.18" y1="474.80" x2="294.18" y2="493.11" stroke="#4a87f6" stroke-width="2.2"/>
<line x1="299.53" y1="463.82" x2="299.53" y2="477.24" stroke="#4a87f6" stroke-width="2.2"/>
<line x1="304.88" y1="461.38" x2="304.88" y2="476.02" stroke="#4a87f6" stroke-width="2.2"/>
<line x1="310.23" y1="454.05" x2="310.23" y2="474.80" stroke="#4a87f6" stroke-width="2.2"/>
<line x1="315.59" y1="447.34" x2="315.59" y2="463.82" stroke="#4a87f6" stroke-width="2.2"/>
<line x1="320.94" y1="462.60" x2="320.94" y2="484.56" stroke="#4a87f6" stroke-width="2.2"/>
<line x1="326.29" y1="460.15" x2="326.29" y2="473.58" stroke="#4a87f6" stroke-width="2.2"/>
<line x1="331.64" y1="463.82" x2="331.64" y2="478.46" stroke="#4a87f6" stroke-width="2.2"/>
<line x1="336.99" y1="458.93" x2="336.99" y2="477.24" stroke="#4a87f6" stroke-width="2.2"/>
<line x1="342.35" y1="466.26" x2="342.35" y2="480.90" stroke="#4a87f6" stroke-width="2.2"/>
<line x1="347.70" y1="452.83" x2="347.70" y2="471.14" stroke="#4a87f6" stroke-width="2.2"/>
<line x1="224.60" y1="380.10" x2="224.60" y2="512.55" stroke="#111" stroke-width="1.5" stroke-linecap="butt"/>
<line x1="223.95" y1="511.90" x2="353.70" y2="511.90" stroke="#111" stroke-width="1.5" stroke-linecap="butt"/>
<line x1="218.30" y1="511.90" x2="224.60" y2="511.90" stroke="#111" stroke-width="1.5" stroke-linecap="butt"/>
<text x="216.00" y="515.60" font-size="10.5" text-anchor="end" font-weight="normal" fill="#111" stroke="#111" stroke-width="0.12">0</text>
<line x1="218.30" y1="468.17" x2="224.60" y2="468.17" stroke="#111" stroke-width="1.5" stroke-linecap="butt"/>
<text x="216.00" y="471.87" font-size="10.5" text-anchor="end" font-weight="normal" fill="#111" stroke="#111" stroke-width="0.12">10</text>
<line x1="218.30" y1="424.43" x2="224.60" y2="424.43" stroke="#111" stroke-width="1.5" stroke-linecap="butt"/>
<text x="216.00" y="428.13" font-size="10.5" text-anchor="end" font-weight="normal" fill="#111" stroke="#111" stroke-width="0.12">20</text>
<line x1="218.30" y1="380.70" x2="224.60" y2="380.70" stroke="#111" stroke-width="1.5" stroke-linecap="butt"/>
<text x="216.00" y="384.40" font-size="10.5" text-anchor="end" font-weight="normal" fill="#111" stroke="#111" stroke-width="0.12">30</text>
<line x1="224.60" y1="511.90" x2="224.60" y2="518.20" stroke="#111" stroke-width="1.5" stroke-linecap="butt"/>
<text x="224.60" y="529.30" font-size="10.5" text-anchor="middle" font-weight="normal" fill="#111" stroke="#111" stroke-width="0.12">0</text>
<line x1="288.82" y1="511.90" x2="288.82" y2="518.20" stroke="#111" stroke-width="1.5" stroke-linecap="butt"/>
<text x="288.82" y="529.30" font-size="10.5" text-anchor="middle" font-weight="normal" fill="#111" stroke="#111" stroke-width="0.12">12</text>
<line x1="353.05" y1="511.90" x2="353.05" y2="518.20" stroke="#111" stroke-width="1.5" stroke-linecap="butt"/>
<text x="353.05" y="529.30" font-size="10.5" text-anchor="middle" font-weight="normal" fill="#111" stroke="#111" stroke-width="0.12">24</text>
<text x="288.82" y="538.60" font-size="10.6" text-anchor="middle" font-weight="normal" fill="#111" stroke="#111" stroke-width="0.12">Zeitgeber Time (h)</text>
<line x1="227.20" y1="499.30" x2="243.40" y2="499.30" stroke="#ecb536" stroke-width="2.3" stroke-linecap="butt"/>
<text x="252.80" y="502.40" font-size="9.5" text-anchor="start" font-weight="normal" fill="#111" stroke="#111" stroke-width="0.12">6 mo WT</text>
<line x1="227.20" y1="507.40" x2="243.40" y2="507.40" stroke="#4a87f6" stroke-width="2.3" stroke-linecap="butt"/>
<text x="252.80" y="510.50" font-size="9.5" text-anchor="start" font-weight="normal" fill="#111" stroke="#111" stroke-width="0.12">6 mo P301S</text>
<text x="189.90" y="446.30" font-size="11.5" text-anchor="middle" font-weight="normal" fill="#111" stroke="#111" stroke-width="0.12" transform="rotate(-90 189.90 446.30)">NREM</text>
<text x="201.60" y="446.30" font-size="11.5" text-anchor="middle" font-weight="normal" fill="#111" stroke="#111" stroke-width="0.12" transform="rotate(-90 201.60 446.30)">(min/hr)</text>
<rect x="465.50" y="380.00" width="64.00" height="131.30" fill="#eaebeb"/>
<polyline points="401.50,436.61 406.83,441.49 412.17,441.49 417.50,425.63 422.83,423.19 428.17,437.83 433.50,442.71 438.83,446.38 444.17,424.41 449.50,426.85 454.83,435.39 460.17,439.05 465.50,468.58 470.83,473.46 476.17,474.68 481.50,473.46 486.83,474.68 492.17,485.67 497.50,446.61 502.83,458.82 508.17,458.82 513.50,450.27 518.83,457.60 524.17,440.51" fill="none" stroke="#c571b0" stroke-width="2.5" stroke-linejoin="round"/>
<line x1="401.50" y1="429.29" x2="401.50" y2="441.49" stroke="#c571b0" stroke-width="2.2"/>
<line x1="406.83" y1="432.95" x2="406.83" y2="442.71" stroke="#c571b0" stroke-width="2.2"/>
<line x1="412.17" y1="432.95" x2="412.17" y2="450.04" stroke="#c571b0" stroke-width="2.2"/>
<line x1="417.50" y1="412.20" x2="417.50" y2="440.27" stroke="#c571b0" stroke-width="2.2"/>
<line x1="422.83" y1="417.09" x2="422.83" y2="429.29" stroke="#c571b0" stroke-width="2.2"/>
<line x1="428.17" y1="421.97" x2="428.17" y2="452.48" stroke="#c571b0" stroke-width="2.2"/>
<line x1="433.50" y1="428.07" x2="433.50" y2="457.36" stroke="#c571b0" stroke-width="2.2"/>
<line x1="438.83" y1="439.05" x2="438.83" y2="451.26" stroke="#c571b0" stroke-width="2.2"/>
<line x1="444.17" y1="408.54" x2="444.17" y2="440.27" stroke="#c571b0" stroke-width="2.2"/>
<line x1="449.50" y1="418.31" x2="449.50" y2="434.17" stroke="#c571b0" stroke-width="2.2"/>
<line x1="454.83" y1="425.63" x2="454.83" y2="440.27" stroke="#c571b0" stroke-width="2.2"/>
<line x1="460.17" y1="425.63" x2="460.17" y2="452.48" stroke="#c571b0" stroke-width="2.2"/>
<line x1="465.50" y1="457.60" x2="465.50" y2="478.34" stroke="#c571b0" stroke-width="2.2"/>
<line x1="470.83" y1="461.26" x2="470.83" y2="484.44" stroke="#c571b0" stroke-width="2.2"/>
<line x1="476.17" y1="466.14" x2="476.17" y2="480.78" stroke="#c571b0" stroke-width="2.2"/>
<line x1="481.50" y1="461.26" x2="481.50" y2="490.55" stroke="#c571b0" stroke-width="2.2"/>
<line x1="486.83" y1="461.26" x2="486.83" y2="488.11" stroke="#c571b0" stroke-width="2.2"/>
<line x1="492.17" y1="478.34" x2="492.17" y2="499.09" stroke="#c571b0" stroke-width="2.2"/>
<line x1="497.50" y1="424.64" x2="497.50" y2="461.26" stroke="#c571b0" stroke-width="2.2"/>
<line x1="502.83" y1="450.27" x2="502.83" y2="463.70" stroke="#c571b0" stroke-width="2.2"/>
<line x1="508.17" y1="444.17" x2="508.17" y2="471.02" stroke="#c571b0" stroke-width="2.2"/>
<line x1="513.50" y1="431.36" x2="513.50" y2="460.04" stroke="#c571b0" stroke-width="2.2"/>
<line x1="518.83" y1="452.71" x2="518.83" y2="461.26" stroke="#c571b0" stroke-width="2.2"/>
<line x1="524.17" y1="423.42" x2="524.17" y2="452.71" stroke="#c571b0" stroke-width="2.2"/>
<polyline points="401.50,451.26 406.83,450.04 412.17,457.36 417.50,448.82 422.83,441.49 428.17,458.58 433.50,465.90 438.83,459.80 444.17,451.26 449.50,446.38 454.83,448.82 460.17,457.36 465.50,478.34 470.83,461.26 476.17,474.68 481.50,457.60 486.83,472.24 492.17,464.92 497.50,462.48 502.83,467.36 508.17,467.36 513.50,469.80 518.83,470.41 524.17,469.80" fill="none" stroke="#f93214" stroke-width="2.5" stroke-linejoin="round"/>
<line x1="401.50" y1="442.71" x2="401.50" y2="462.24" stroke="#f93214" stroke-width="2.2"/>
<line x1="406.83" y1="442.71" x2="406.83" y2="457.36" stroke="#f93214" stroke-width="2.2"/>
<line x1="412.17" y1="452.48" x2="412.17" y2="465.90" stroke="#f93214" stroke-width="2.2"/>
<line x1="417.50" y1="441.49" x2="417.50" y2="461.02" stroke="#f93214" stroke-width="2.2"/>
<line x1="422.83" y1="430.51" x2="422.83" y2="448.82" stroke="#f93214" stroke-width="2.2"/>
<line x1="428.17" y1="453.70" x2="428.17" y2="467.12" stroke="#f93214" stroke-width="2.2"/>
<line x1="433.50" y1="458.58" x2="433.50" y2="474.44" stroke="#f93214" stroke-width="2.2"/>
<line x1="438.83" y1="452.48" x2="438.83" y2="470.78" stroke="#f93214" stroke-width="2.2"/>
<line x1="444.17" y1="442.71" x2="444.17" y2="463.46" stroke="#f93214" stroke-width="2.2"/>
<line x1="449.50" y1="434.17" x2="449.50" y2="456.14" stroke="#f93214" stroke-width="2.2"/>
<line x1="454.83" y1="440.27" x2="454.83" y2="458.58" stroke="#f93214" stroke-width="2.2"/>
<line x1="460.17" y1="452.48" x2="460.17" y2="470.78" stroke="#f93214" stroke-width="2.2"/>
<line x1="465.50" y1="468.58" x2="465.50" y2="489.33" stroke="#f93214" stroke-width="2.2"/>
<line x1="470.83" y1="449.05" x2="470.83" y2="473.46" stroke="#f93214" stroke-width="2.2"/>
<line x1="476.17" y1="467.36" x2="476.17" y2="486.89" stroke="#f93214" stroke-width="2.2"/>
<line x1="481.50" y1="441.73" x2="481.50" y2="466.14" stroke="#f93214" stroke-width="2.2"/>
<line x1="486.83" y1="463.70" x2="486.83" y2="480.78" stroke="#f93214" stroke-width="2.2"/>
<line x1="492.17" y1="451.49" x2="492.17" y2="477.12" stroke="#f93214" stroke-width="2.2"/>
<line x1="497.50" y1="452.71" x2="497.50" y2="471.02" stroke="#f93214" stroke-width="2.2"/>
<line x1="502.83" y1="458.82" x2="502.83" y2="478.34" stroke="#f93214" stroke-width="2.2"/>
<line x1="508.17" y1="458.82" x2="508.17" y2="474.68" stroke="#f93214" stroke-width="2.2"/>
<line x1="513.50" y1="461.26" x2="513.50" y2="478.34" stroke="#f93214" stroke-width="2.2"/>
<line x1="518.83" y1="462.48" x2="518.83" y2="480.17" stroke="#f93214" stroke-width="2.2"/>
<line x1="524.17" y1="460.04" x2="524.17" y2="480.17" stroke="#f93214" stroke-width="2.2"/>
<line x1="401.50" y1="379.40" x2="401.50" y2="511.95" stroke="#111" stroke-width="1.5" stroke-linecap="butt"/>
<line x1="400.85" y1="511.30" x2="530.15" y2="511.30" stroke="#111" stroke-width="1.5" stroke-linecap="butt"/>
<line x1="395.20" y1="511.30" x2="401.50" y2="511.30" stroke="#111" stroke-width="1.5" stroke-linecap="butt"/>
<text x="392.90" y="515.00" font-size="10.5" text-anchor="end" font-weight="normal" fill="#111" stroke="#111" stroke-width="0.12">0</text>
<line x1="395.20" y1="467.53" x2="401.50" y2="467.53" stroke="#111" stroke-width="1.5" stroke-linecap="butt"/>
<text x="392.90" y="471.23" font-size="10.5" text-anchor="end" font-weight="normal" fill="#111" stroke="#111" stroke-width="0.12">10</text>
<line x1="395.20" y1="423.77" x2="401.50" y2="423.77" stroke="#111" stroke-width="1.5" stroke-linecap="butt"/>
<text x="392.90" y="427.47" font-size="10.5" text-anchor="end" font-weight="normal" fill="#111" stroke="#111" stroke-width="0.12">20</text>
<line x1="395.20" y1="380.00" x2="401.50" y2="380.00" stroke="#111" stroke-width="1.5" stroke-linecap="butt"/>
<text x="392.90" y="383.70" font-size="10.5" text-anchor="end" font-weight="normal" fill="#111" stroke="#111" stroke-width="0.12">30</text>
<line x1="401.50" y1="511.30" x2="401.50" y2="517.60" stroke="#111" stroke-width="1.5" stroke-linecap="butt"/>
<text x="401.50" y="528.80" font-size="10.5" text-anchor="middle" font-weight="normal" fill="#111" stroke="#111" stroke-width="0.12">0</text>
<line x1="465.50" y1="511.30" x2="465.50" y2="517.60" stroke="#111" stroke-width="1.5" stroke-linecap="butt"/>
<text x="465.50" y="528.80" font-size="10.5" text-anchor="middle" font-weight="normal" fill="#111" stroke="#111" stroke-width="0.12">12</text>
<line x1="529.50" y1="511.30" x2="529.50" y2="517.60" stroke="#111" stroke-width="1.5" stroke-linecap="butt"/>
<text x="529.50" y="528.80" font-size="10.5" text-anchor="middle" font-weight="normal" fill="#111" stroke="#111" stroke-width="0.12">24</text>
<text x="465.50" y="538.40" font-size="10.6" text-anchor="middle" font-weight="normal" fill="#111" stroke="#111" stroke-width="0.12">Zeitgeber Time (h)</text>
<line x1="404.10" y1="385.90" x2="420.30" y2="385.90" stroke="#c571b0" stroke-width="2.3" stroke-linecap="butt"/>
<text x="429.70" y="389.00" font-size="9.5" text-anchor="start" font-weight="normal" fill="#111" stroke="#111" stroke-width="0.12">9 mo WT</text>
<line x1="404.10" y1="394.20" x2="420.30" y2="394.20" stroke="#f93214" stroke-width="2.3" stroke-linecap="butt"/>
<text x="429.70" y="397.30" font-size="9.5" text-anchor="start" font-weight="normal" fill="#111" stroke="#111" stroke-width="0.12">9 mo P301S</text>
<text x="364.80" y="445.65" font-size="11.5" text-anchor="middle" font-weight="normal" fill="#111" stroke="#111" stroke-width="0.12" transform="rotate(-90 364.80 445.65)">NREM</text>
<text x="378.30" y="445.65" font-size="11.5" text-anchor="middle" font-weight="normal" fill="#111" stroke="#111" stroke-width="0.12" transform="rotate(-90 378.30 445.65)">(min/hr)</text>
<rect x="109.75" y="573.45" width="64.25" height="131.00" fill="#eaebeb"/>
<polyline points="45.50,647.00 50.85,663.00 56.21,653.00 61.56,669.00 66.92,650.40 72.27,654.70 77.62,663.40 82.98,683.00 88.33,671.00 93.69,659.10 99.04,658.00 104.40,665.60 109.75,694.44 115.10,690.78 120.46,685.90 125.81,688.34 131.17,692.00 136.52,689.56 141.88,684.68 147.23,682.24 152.58,678.58 157.94,676.14 163.29,668.82 168.65,660.27" fill="none" stroke="#0a0a0a" stroke-width="2.5" stroke-linejoin="round"/>
<line x1="45.50" y1="620.50" x2="45.50" y2="664.50" stroke="#0a0a0a" stroke-width="2.2"/>
<line x1="50.85" y1="655.00" x2="50.85" y2="679.10" stroke="#0a0a0a" stroke-width="2.2"/>
<line x1="56.21" y1="632.50" x2="56.21" y2="663.40" stroke="#0a0a0a" stroke-width="2.2"/>
<line x1="61.56" y1="662.00" x2="61.56" y2="684.00" stroke="#0a0a0a" stroke-width="2.2"/>
<line x1="66.92" y1="643.00" x2="66.92" y2="665.60" stroke="#0a0a0a" stroke-width="2.2"/>
<line x1="72.27" y1="642.80" x2="72.27" y2="671.00" stroke="#0a0a0a" stroke-width="2.2"/>
<line x1="77.62" y1="654.20" x2="77.62" y2="679.10" stroke="#0a0a0a" stroke-width="2.2"/>
<line x1="82.98" y1="676.40" x2="82.98" y2="693.30" stroke="#0a0a0a" stroke-width="2.2"/>
<line x1="88.33" y1="667.80" x2="88.33" y2="684.60" stroke="#0a0a0a" stroke-width="2.2"/>
<line x1="93.69" y1="652.00" x2="93.69" y2="675.40" stroke="#0a0a0a" stroke-width="2.2"/>
<line x1="99.04" y1="651.00" x2="99.04" y2="674.30" stroke="#0a0a0a" stroke-width="2.2"/>
<line x1="104.40" y1="652.60" x2="104.40" y2="682.40" stroke="#0a0a0a" stroke-width="2.2"/>
<line x1="109.75" y1="690.78" x2="109.75" y2="700.55" stroke="#0a0a0a" stroke-width="2.2"/>
<line x1="115.10" y1="688.34" x2="115.10" y2="695.67" stroke="#0a0a0a" stroke-width="2.2"/>
<line x1="120.46" y1="681.02" x2="120.46" y2="690.78" stroke="#0a0a0a" stroke-width="2.2"/>
<line x1="125.81" y1="683.46" x2="125.81" y2="693.22" stroke="#0a0a0a" stroke-width="2.2"/>
<line x1="131.17" y1="688.34" x2="131.17" y2="698.11" stroke="#0a0a0a" stroke-width="2.2"/>
<line x1="136.52" y1="685.90" x2="136.52" y2="693.22" stroke="#0a0a0a" stroke-width="2.2"/>
<line x1="141.88" y1="676.14" x2="141.88" y2="689.56" stroke="#0a0a0a" stroke-width="2.2"/>
<line x1="147.23" y1="676.14" x2="147.23" y2="690.78" stroke="#0a0a0a" stroke-width="2.2"/>
<line x1="152.58" y1="674.92" x2="152.58" y2="682.24" stroke="#0a0a0a" stroke-width="2.2"/>
<line x1="157.94" y1="671.26" x2="157.94" y2="683.46" stroke="#0a0a0a" stroke-width="2.2"/>
<line x1="163.29" y1="655.39" x2="163.29" y2="671.26" stroke="#0a0a0a" stroke-width="2.2"/>
<line x1="168.65" y1="641.36" x2="168.65" y2="667.60" stroke="#0a0a0a" stroke-width="2.2"/>
<polyline points="45.50,634.00 50.85,651.00 56.21,647.00 61.56,648.00 66.92,637.00 72.27,620.00 77.62,619.50 82.98,667.80 88.33,661.00 93.69,649.00 99.04,639.50 104.40,636.30 109.75,695.67 115.10,696.89 120.46,687.12 125.81,672.48 131.17,677.36 136.52,690.78 141.88,685.90 147.23,681.02 152.58,661.49 157.94,665.15 163.29,672.48 168.65,668.82" fill="none" stroke="#4cae80" stroke-width="2.5" stroke-linejoin="round"/>
<line x1="45.50" y1="621.20" x2="45.50" y2="647.80" stroke="#4cae80" stroke-width="2.2"/>
<line x1="50.85" y1="641.30" x2="50.85" y2="660.90" stroke="#4cae80" stroke-width="2.2"/>
<line x1="56.21" y1="632.60" x2="56.21" y2="658.00" stroke="#4cae80" stroke-width="2.2"/>
<line x1="61.56" y1="629.30" x2="61.56" y2="668.50" stroke="#4cae80" stroke-width="2.2"/>
<line x1="66.92" y1="621.70" x2="66.92" y2="650.40" stroke="#4cae80" stroke-width="2.2"/>
<line x1="72.27" y1="600.00" x2="72.27" y2="637.00" stroke="#4cae80" stroke-width="2.2"/>
<line x1="77.62" y1="603.00" x2="77.62" y2="638.50" stroke="#4cae80" stroke-width="2.2"/>
<line x1="82.98" y1="662.30" x2="82.98" y2="675.40" stroke="#4cae80" stroke-width="2.2"/>
<line x1="88.33" y1="640.60" x2="88.33" y2="667.80" stroke="#4cae80" stroke-width="2.2"/>
<line x1="93.69" y1="624.30" x2="93.69" y2="655.80" stroke="#4cae80" stroke-width="2.2"/>
<line x1="99.04" y1="617.50" x2="99.04" y2="661.20" stroke="#4cae80" stroke-width="2.2"/>
<line x1="104.40" y1="621.10" x2="104.40" y2="652.60" stroke="#4cae80" stroke-width="2.2"/>
<line x1="109.75" y1="690.78" x2="109.75" y2="700.55" stroke="#4cae80" stroke-width="2.2"/>
<line x1="115.10" y1="690.78" x2="115.10" y2="702.99" stroke="#4cae80" stroke-width="2.2"/>
<line x1="120.46" y1="678.58" x2="120.46" y2="696.89" stroke="#4cae80" stroke-width="2.2"/>
<line x1="125.81" y1="661.49" x2="125.81" y2="683.46" stroke="#4cae80" stroke-width="2.2"/>
<line x1="131.17" y1="665.15" x2="131.17" y2="692.00" stroke="#4cae80" stroke-width="2.2"/>
<line x1="136.52" y1="683.46" x2="136.52" y2="698.11" stroke="#4cae80" stroke-width="2.2"/>
<line x1="141.88" y1="676.14" x2="141.88" y2="696.89" stroke="#4cae80" stroke-width="2.2"/>
<line x1="147.23" y1="672.48" x2="147.23" y2="689.56" stroke="#4cae80" stroke-width="2.2"/>
<line x1="152.58" y1="643.19" x2="152.58" y2="678.58" stroke="#4cae80" stroke-width="2.2"/>
<line x1="157.94" y1="648.07" x2="157.94" y2="681.02" stroke="#4cae80" stroke-width="2.2"/>
<line x1="163.29" y1="666.38" x2="163.29" y2="682.24" stroke="#4cae80" stroke-width="2.2"/>
<line x1="168.65" y1="652.95" x2="168.65" y2="683.46" stroke="#4cae80" stroke-width="2.2"/>
<line x1="45.50" y1="572.85" x2="45.50" y2="705.10" stroke="#111" stroke-width="1.5" stroke-linecap="butt"/>
<line x1="44.85" y1="704.45" x2="174.65" y2="704.45" stroke="#111" stroke-width="1.5" stroke-linecap="butt"/>
<line x1="39.20" y1="704.45" x2="45.50" y2="704.45" stroke="#111" stroke-width="1.5" stroke-linecap="butt"/>
<text x="36.90" y="708.15" font-size="10.5" text-anchor="end" font-weight="normal" fill="#111" stroke="#111" stroke-width="0.12">0</text>
<line x1="39.20" y1="660.78" x2="45.50" y2="660.78" stroke="#111" stroke-width="1.5" stroke-linecap="butt"/>
<text x="36.90" y="664.48" font-size="10.5" text-anchor="end" font-weight="normal" fill="#111" stroke="#111" stroke-width="0.12">2</text>
<line x1="39.20" y1="617.12" x2="45.50" y2="617.12" stroke="#111" stroke-width="1.5" stroke-linecap="butt"/>
<text x="36.90" y="620.82" font-size="10.5" text-anchor="end" font-weight="normal" fill="#111" stroke="#111" stroke-width="0.12">4</text>
<line x1="39.20" y1="573.45" x2="45.50" y2="573.45" stroke="#111" stroke-width="1.5" stroke-linecap="butt"/>
<text x="36.90" y="577.15" font-size="10.5" text-anchor="end" font-weight="normal" fill="#111" stroke="#111" stroke-width="0.12">6</text>
<line x1="45.50" y1="704.45" x2="45.50" y2="710.75" stroke="#111" stroke-width="1.5" stroke-linecap="butt"/>
<text x="45.50" y="722.20" font-size="10.5" text-anchor="middle" font-weight="normal" fill="#111" stroke="#111" stroke-width="0.12">0</text>
<line x1="109.75" y1="704.45" x2="109.75" y2="710.75" stroke="#111" stroke-width="1.5" stroke-linecap="butt"/>
<text x="109.75" y="722.20" font-size="10.5" text-anchor="middle" font-weight="normal" fill="#111" stroke="#111" stroke-width="0.12">12</text>
<line x1="174.00" y1="704.45" x2="174.00" y2="710.75" stroke="#111" stroke-width="1.5" stroke-linecap="butt"/>
<text x="174.00" y="722.20" font-size="10.5" text-anchor="middle" font-weight="normal" fill="#111" stroke="#111" stroke-width="0.12">24</text>
<text x="109.75" y="731.50" font-size="10.6" text-anchor="middle" font-weight="normal" fill="#111" stroke="#111" stroke-width="0.12">Zeitgeber Time (h)</text>
<line x1="48.10" y1="578.60" x2="64.30" y2="578.60" stroke="#0a0a0a" stroke-width="2.3" stroke-linecap="butt"/>
<text x="73.70" y="581.70" font-size="9.5" text-anchor="start" font-weight="normal" fill="#111" stroke="#111" stroke-width="0.12">3 mo WT</text>
<line x1="48.10" y1="586.90" x2="64.30" y2="586.90" stroke="#4cae80" stroke-width="2.3" stroke-linecap="butt"/>
<text x="73.70" y="590.00" font-size="9.5" text-anchor="start" font-weight="normal" fill="#111" stroke="#111" stroke-width="0.12">3 mo P301S</text>
<text x="15.40" y="638.95" font-size="11.5" text-anchor="middle" font-weight="normal" fill="#111" stroke="#111" stroke-width="0.12" transform="rotate(-90 15.40 638.95)">REM</text>
<text x="27.80" y="638.95" font-size="11.5" text-anchor="middle" font-weight="normal" fill="#111" stroke="#111" stroke-width="0.12" transform="rotate(-90 27.80 638.95)">(min/hr)</text>
<rect x="288.82" y="573.20" width="64.23" height="131.10" fill="#eaebeb"/>
<polyline points="224.60,627.83 229.95,636.38 235.30,653.46 240.66,660.78 246.01,662.00 251.36,651.02 256.71,660.78 262.06,665.67 267.42,641.26 272.77,643.70 278.12,641.26 283.47,636.38 288.82,698.11 294.18,693.22 299.53,685.90 304.88,698.11 310.23,692.00 315.59,694.44 320.94,690.78 326.29,685.90 331.64,674.92 336.99,679.80 342.35,678.58 347.70,688.34" fill="none" stroke="#ecb536" stroke-width="2.5" stroke-linejoin="round"/>
<line x1="224.60" y1="599.76" x2="224.60" y2="638.82" stroke="#ecb536" stroke-width="2.2"/>
<line x1="229.95" y1="615.63" x2="229.95" y2="658.34" stroke="#ecb536" stroke-width="2.2"/>
<line x1="235.30" y1="638.82" x2="235.30" y2="677.87" stroke="#ecb536" stroke-width="2.2"/>
<line x1="240.66" y1="643.70" x2="240.66" y2="679.94" stroke="#ecb536" stroke-width="2.2"/>
<line x1="246.01" y1="644.92" x2="246.01" y2="675.43" stroke="#ecb536" stroke-width="2.2"/>
<line x1="251.36" y1="636.38" x2="251.36" y2="676.65" stroke="#ecb536" stroke-width="2.2"/>
<line x1="256.71" y1="648.58" x2="256.71" y2="679.94" stroke="#ecb536" stroke-width="2.2"/>
<line x1="262.06" y1="653.46" x2="262.06" y2="675.43" stroke="#ecb536" stroke-width="2.2"/>
<line x1="267.42" y1="624.17" x2="267.42" y2="657.12" stroke="#ecb536" stroke-width="2.2"/>
<line x1="272.77" y1="632.71" x2="272.77" y2="657.12" stroke="#ecb536" stroke-width="2.2"/>
<line x1="278.12" y1="621.73" x2="278.12" y2="659.56" stroke="#ecb536" stroke-width="2.2"/>
<line x1="283.47" y1="611.97" x2="283.47" y2="652.24" stroke="#ecb536" stroke-width="2.2"/>
<line x1="288.82" y1="693.22" x2="288.82" y2="700.55" stroke="#ecb536" stroke-width="2.2"/>
<line x1="294.18" y1="683.46" x2="294.18" y2="699.33" stroke="#ecb536" stroke-width="2.2"/>
<line x1="299.53" y1="681.02" x2="299.53" y2="692.00" stroke="#ecb536" stroke-width="2.2"/>
<line x1="304.88" y1="692.00" x2="304.88" y2="702.99" stroke="#ecb536" stroke-width="2.2"/>
<line x1="310.23" y1="688.34" x2="310.23" y2="695.67" stroke="#ecb536" stroke-width="2.2"/>
<line x1="315.59" y1="688.34" x2="315.59" y2="700.55" stroke="#ecb536" stroke-width="2.2"/>
<line x1="320.94" y1="683.46" x2="320.94" y2="698.11" stroke="#ecb536" stroke-width="2.2"/>
<line x1="326.29" y1="674.92" x2="326.29" y2="694.44" stroke="#ecb536" stroke-width="2.2"/>
<line x1="331.64" y1="662.71" x2="331.64" y2="684.68" stroke="#ecb536" stroke-width="2.2"/>
<line x1="336.99" y1="673.70" x2="336.99" y2="685.90" stroke="#ecb536" stroke-width="2.2"/>
<line x1="342.35" y1="662.71" x2="342.35" y2="694.44" stroke="#ecb536" stroke-width="2.2"/>
<line x1="347.70" y1="683.46" x2="347.70" y2="693.22" stroke="#ecb536" stroke-width="2.2"/>
<polyline points="224.60,651.02 229.95,653.46 235.30,655.90 240.66,653.46 246.01,664.44 251.36,649.80 256.71,658.34 262.06,669.33 267.42,672.99 272.77,674.21 278.12,663.22 283.47,660.78 288.82,695.67 294.18,696.89 299.53,674.92 304.88,685.90 310.23,682.24 315.59,685.90 320.94,684.68 326.29,684.68 331.64,687.12 336.99,689.56 342.35,678.58 347.70,666.38" fill="none" stroke="#4a87f6" stroke-width="2.5" stroke-linejoin="round"/>
<line x1="224.60" y1="638.82" x2="224.60" y2="663.22" stroke="#4a87f6" stroke-width="2.2"/>
<line x1="229.95" y1="637.60" x2="229.95" y2="670.55" stroke="#4a87f6" stroke-width="2.2"/>
<line x1="235.30" y1="643.70" x2="235.30" y2="668.11" stroke="#4a87f6" stroke-width="2.2"/>
<line x1="240.66" y1="638.82" x2="240.66" y2="668.11" stroke="#4a87f6" stroke-width="2.2"/>
<line x1="246.01" y1="654.68" x2="246.01" y2="679.09" stroke="#4a87f6" stroke-width="2.2"/>
<line x1="251.36" y1="636.38" x2="251.36" y2="660.78" stroke="#4a87f6" stroke-width="2.2"/>
<line x1="256.71" y1="652.24" x2="256.71" y2="668.11" stroke="#4a87f6" stroke-width="2.2"/>
<line x1="262.06" y1="665.67" x2="262.06" y2="675.43" stroke="#4a87f6" stroke-width="2.2"/>
<line x1="267.42" y1="664.44" x2="267.42" y2="679.94" stroke="#4a87f6" stroke-width="2.2"/>
<line x1="272.77" y1="669.33" x2="272.77" y2="679.09" stroke="#4a87f6" stroke-width="2.2"/>
<line x1="278.12" y1="648.58" x2="278.12" y2="670.55" stroke="#4a87f6" stroke-width="2.2"/>
<line x1="283.47" y1="653.46" x2="283.47" y2="672.99" stroke="#4a87f6" stroke-width="2.2"/>
<line x1="288.82" y1="692.00" x2="288.82" y2="700.55" stroke="#4a87f6" stroke-width="2.2"/>
<line x1="294.18" y1="693.22" x2="294.18" y2="700.55" stroke="#4a87f6" stroke-width="2.2"/>
<line x1="299.53" y1="663.93" x2="299.53" y2="683.46" stroke="#4a87f6" stroke-width="2.2"/>
<line x1="304.88" y1="681.02" x2="304.88" y2="696.89" stroke="#4a87f6" stroke-width="2.2"/>
<line x1="310.23" y1="673.70" x2="310.23" y2="689.56" stroke="#4a87f6" stroke-width="2.2"/>
<line x1="315.59" y1="679.80" x2="315.59" y2="692.00" stroke="#4a87f6" stroke-width="2.2"/>
<line x1="320.94" y1="676.14" x2="320.94" y2="693.22" stroke="#4a87f6" stroke-width="2.2"/>
<line x1="326.29" y1="678.58" x2="326.29" y2="690.78" stroke="#4a87f6" stroke-width="2.2"/>
<line x1="331.64" y1="683.46" x2="331.64" y2="693.22" stroke="#4a87f6" stroke-width="2.2"/>
<line x1="336.99" y1="685.90" x2="336.99" y2="694.44" stroke="#4a87f6" stroke-width="2.2"/>
<line x1="342.35" y1="671.26" x2="342.35" y2="688.34" stroke="#4a87f6" stroke-width="2.2"/>
<line x1="347.70" y1="656.61" x2="347.70" y2="676.14" stroke="#4a87f6" stroke-width="2.2"/>
<line x1="224.60" y1="572.60" x2="224.60" y2="704.95" stroke="#111" stroke-width="1.5" stroke-linecap="butt"/>
<line x1="223.95" y1="704.30" x2="353.70" y2="704.30" stroke="#111" stroke-width="1.5" stroke-linecap="butt"/>
<line x1="218.30" y1="704.30" x2="224.60" y2="704.30" stroke="#111" stroke-width="1.5" stroke-linecap="butt"/>
<text x="216.00" y="708.00" font-size="10.5" text-anchor="end" font-weight="normal" fill="#111" stroke="#111" stroke-width="0.12">0</text>
<line x1="218.30" y1="660.60" x2="224.60" y2="660.60" stroke="#111" stroke-width="1.5" stroke-linecap="butt"/>
<text x="216.00" y="664.30" font-size="10.5" text-anchor="end" font-weight="normal" fill="#111" stroke="#111" stroke-width="0.12">2</text>
<line x1="218.30" y1="616.90" x2="224.60" y2="616.90" stroke="#111" stroke-width="1.5" stroke-linecap="butt"/>
<text x="216.00" y="620.60" font-size="10.5" text-anchor="end" font-weight="normal" fill="#111" stroke="#111" stroke-width="0.12">4</text>
<line x1="218.30" y1="573.20" x2="224.60" y2="573.20" stroke="#111" stroke-width="1.5" stroke-linecap="butt"/>
<text x="216.00" y="576.90" font-size="10.5" text-anchor="end" font-weight="normal" fill="#111" stroke="#111" stroke-width="0.12">6</text>
<line x1="224.60" y1="704.30" x2="224.60" y2="710.60" stroke="#111" stroke-width="1.5" stroke-linecap="butt"/>
<text x="224.60" y="721.90" font-size="10.5" text-anchor="middle" font-weight="normal" fill="#111" stroke="#111" stroke-width="0.12">0</text>
<line x1="288.82" y1="704.30" x2="288.82" y2="710.60" stroke="#111" stroke-width="1.5" stroke-linecap="butt"/>
<text x="288.82" y="721.90" font-size="10.5" text-anchor="middle" font-weight="normal" fill="#111" stroke="#111" stroke-width="0.12">12</text>
<line x1="353.05" y1="704.30" x2="353.05" y2="710.60" stroke="#111" stroke-width="1.5" stroke-linecap="butt"/>
<text x="353.05" y="721.90" font-size="10.5" text-anchor="middle" font-weight="normal" fill="#111" stroke="#111" stroke-width="0.12">24</text>
<text x="288.82" y="731.10" font-size="10.6" text-anchor="middle" font-weight="normal" fill="#111" stroke="#111" stroke-width="0.12">Zeitgeber Time (h)</text>
<line x1="227.20" y1="577.80" x2="243.40" y2="577.80" stroke="#ecb536" stroke-width="2.3" stroke-linecap="butt"/>
<text x="252.80" y="580.90" font-size="9.5" text-anchor="start" font-weight="normal" fill="#111" stroke="#111" stroke-width="0.12">6 mo WT</text>
<line x1="227.20" y1="586.60" x2="243.40" y2="586.60" stroke="#4a87f6" stroke-width="2.3" stroke-linecap="butt"/>
<text x="252.80" y="589.70" font-size="9.5" text-anchor="start" font-weight="normal" fill="#111" stroke="#111" stroke-width="0.12">6 mo P301S</text>
<text x="195.90" y="638.75" font-size="11.5" text-anchor="middle" font-weight="normal" fill="#111" stroke="#111" stroke-width="0.12" transform="rotate(-90 195.90 638.75)">REM</text>
<text x="207.60" y="638.75" font-size="11.5" text-anchor="middle" font-weight="normal" fill="#111" stroke="#111" stroke-width="0.12" transform="rotate(-90 207.60 638.75)">(min/hr)</text>
<rect x="465.50" y="573.30" width="64.00" height="131.10" fill="#eaebeb"/>
<polyline points="401.50,647.60 406.83,645.15 412.17,661.02 417.50,656.14 422.83,655.53 428.17,652.48 433.50,648.82 438.83,667.12 444.17,641.49 449.50,675.67 454.83,672.00 460.17,673.22 465.50,685.90 470.83,685.90 476.17,688.34 481.50,674.92 486.83,681.02 492.17,690.78 497.50,670.04 502.83,676.14 508.17,673.70 513.50,654.17 518.83,684.68 524.17,670.04" fill="none" stroke="#c571b0" stroke-width="2.5" stroke-linejoin="round"/>
<line x1="401.50" y1="626.85" x2="401.50" y2="668.34" stroke="#c571b0" stroke-width="2.2"/>
<line x1="406.83" y1="620.75" x2="406.83" y2="668.34" stroke="#c571b0" stroke-width="2.2"/>
<line x1="412.17" y1="650.04" x2="412.17" y2="687.87" stroke="#c571b0" stroke-width="2.2"/>
<line x1="417.50" y1="642.71" x2="417.50" y2="669.56" stroke="#c571b0" stroke-width="2.2"/>
<line x1="422.83" y1="640.27" x2="422.83" y2="670.78" stroke="#c571b0" stroke-width="2.2"/>
<line x1="428.17" y1="640.27" x2="428.17" y2="663.46" stroke="#c571b0" stroke-width="2.2"/>
<line x1="433.50" y1="632.34" x2="433.50" y2="665.90" stroke="#c571b0" stroke-width="2.2"/>
<line x1="438.83" y1="651.26" x2="438.83" y2="684.21" stroke="#c571b0" stroke-width="2.2"/>
<line x1="444.17" y1="626.24" x2="444.17" y2="661.02" stroke="#c571b0" stroke-width="2.2"/>
<line x1="449.50" y1="668.34" x2="449.50" y2="684.21" stroke="#c571b0" stroke-width="2.2"/>
<line x1="454.83" y1="665.90" x2="454.83" y2="678.11" stroke="#c571b0" stroke-width="2.2"/>
<line x1="460.17" y1="662.85" x2="460.17" y2="680.55" stroke="#c571b0" stroke-width="2.2"/>
<line x1="465.50" y1="677.36" x2="465.50" y2="695.67" stroke="#c571b0" stroke-width="2.2"/>
<line x1="470.83" y1="677.36" x2="470.83" y2="694.44" stroke="#c571b0" stroke-width="2.2"/>
<line x1="476.17" y1="678.58" x2="476.17" y2="699.33" stroke="#c571b0" stroke-width="2.2"/>
<line x1="481.50" y1="656.61" x2="481.50" y2="685.90" stroke="#c571b0" stroke-width="2.2"/>
<line x1="486.83" y1="673.70" x2="486.83" y2="693.22" stroke="#c571b0" stroke-width="2.2"/>
<line x1="492.17" y1="678.58" x2="492.17" y2="702.99" stroke="#c571b0" stroke-width="2.2"/>
<line x1="497.50" y1="649.29" x2="497.50" y2="688.34" stroke="#c571b0" stroke-width="2.2"/>
<line x1="502.83" y1="668.82" x2="502.83" y2="689.56" stroke="#c571b0" stroke-width="2.2"/>
<line x1="508.17" y1="666.38" x2="508.17" y2="685.90" stroke="#c571b0" stroke-width="2.2"/>
<line x1="513.50" y1="629.76" x2="513.50" y2="670.04" stroke="#c571b0" stroke-width="2.2"/>
<line x1="518.83" y1="677.36" x2="518.83" y2="699.33" stroke="#c571b0" stroke-width="2.2"/>
<line x1="524.17" y1="652.95" x2="524.17" y2="684.68" stroke="#c571b0" stroke-width="2.2"/>
<polyline points="401.50,676.89 406.83,676.89 412.17,676.89 417.50,676.89 422.83,678.11 428.17,676.89 433.50,682.99 438.83,689.09 444.17,686.65 449.50,684.21 454.83,686.65 460.17,684.21 465.50,694.44 470.83,693.22 476.17,688.34 481.50,690.78 486.83,687.12 492.17,693.22 497.50,692.00 502.83,693.22 508.17,692.00 513.50,692.00 518.83,690.78 524.17,693.22" fill="none" stroke="#f93214" stroke-width="2.5" stroke-linejoin="round"/>
<line x1="401.50" y1="670.17" x2="401.50" y2="684.21" stroke="#f93214" stroke-width="2.2"/>
<line x1="406.83" y1="672.00" x2="406.83" y2="682.99" stroke="#f93214" stroke-width="2.2"/>
<line x1="412.17" y1="670.78" x2="412.17" y2="684.21" stroke="#f93214" stroke-width="2.2"/>
<line x1="417.50" y1="670.17" x2="417.50" y2="684.21" stroke="#f93214" stroke-width="2.2"/>
<line x1="422.83" y1="672.00" x2="422.83" y2="686.65" stroke="#f93214" stroke-width="2.2"/>
<line x1="428.17" y1="670.17" x2="428.17" y2="681.77" stroke="#f93214" stroke-width="2.2"/>
<line x1="433.50" y1="678.11" x2="433.50" y2="687.87" stroke="#f93214" stroke-width="2.2"/>
<line x1="438.83" y1="685.43" x2="438.83" y2="692.75" stroke="#f93214" stroke-width="2.2"/>
<line x1="444.17" y1="682.99" x2="444.17" y2="690.31" stroke="#f93214" stroke-width="2.2"/>
<line x1="449.50" y1="678.11" x2="449.50" y2="689.09" stroke="#f93214" stroke-width="2.2"/>
<line x1="454.83" y1="682.99" x2="454.83" y2="690.31" stroke="#f93214" stroke-width="2.2"/>
<line x1="460.17" y1="679.33" x2="460.17" y2="689.09" stroke="#f93214" stroke-width="2.2"/>
<line x1="465.50" y1="689.56" x2="465.50" y2="699.33" stroke="#f93214" stroke-width="2.2"/>
<line x1="470.83" y1="689.56" x2="470.83" y2="696.89" stroke="#f93214" stroke-width="2.2"/>
<line x1="476.17" y1="683.46" x2="476.17" y2="692.00" stroke="#f93214" stroke-width="2.2"/>
<line x1="481.50" y1="687.12" x2="481.50" y2="694.44" stroke="#f93214" stroke-width="2.2"/>
<line x1="486.83" y1="681.02" x2="486.83" y2="692.00" stroke="#f93214" stroke-width="2.2"/>
<line x1="492.17" y1="688.34" x2="492.17" y2="698.11" stroke="#f93214" stroke-width="2.2"/>
<line x1="497.50" y1="685.90" x2="497.50" y2="696.89" stroke="#f93214" stroke-width="2.2"/>
<line x1="502.83" y1="689.56" x2="502.83" y2="696.89" stroke="#f93214" stroke-width="2.2"/>
<line x1="508.17" y1="688.34" x2="508.17" y2="695.67" stroke="#f93214" stroke-width="2.2"/>
<line x1="513.50" y1="688.34" x2="513.50" y2="695.67" stroke="#f93214" stroke-width="2.2"/>
<line x1="518.83" y1="685.90" x2="518.83" y2="695.67" stroke="#f93214" stroke-width="2.2"/>
<line x1="524.17" y1="689.56" x2="524.17" y2="698.11" stroke="#f93214" stroke-width="2.2"/>
<line x1="401.50" y1="572.70" x2="401.50" y2="705.05" stroke="#111" stroke-width="1.5" stroke-linecap="butt"/>
<line x1="400.85" y1="704.40" x2="530.15" y2="704.40" stroke="#111" stroke-width="1.5" stroke-linecap="butt"/>
<line x1="395.20" y1="704.40" x2="401.50" y2="704.40" stroke="#111" stroke-width="1.5" stroke-linecap="butt"/>
<text x="392.90" y="708.10" font-size="10.5" text-anchor="end" font-weight="normal" fill="#111" stroke="#111" stroke-width="0.12">0</text>
<line x1="395.20" y1="660.70" x2="401.50" y2="660.70" stroke="#111" stroke-width="1.5" stroke-linecap="butt"/>
<text x="392.90" y="664.40" font-size="10.5" text-anchor="end" font-weight="normal" fill="#111" stroke="#111" stroke-width="0.12">2</text>
<line x1="395.20" y1="617.00" x2="401.50" y2="617.00" stroke="#111" stroke-width="1.5" stroke-linecap="butt"/>
<text x="392.90" y="620.70" font-size="10.5" text-anchor="end" font-weight="normal" fill="#111" stroke="#111" stroke-width="0.12">4</text>
<line x1="395.20" y1="573.30" x2="401.50" y2="573.30" stroke="#111" stroke-width="1.5" stroke-linecap="butt"/>
<text x="392.90" y="577.00" font-size="10.5" text-anchor="end" font-weight="normal" fill="#111" stroke="#111" stroke-width="0.12">6</text>
<line x1="401.50" y1="704.40" x2="401.50" y2="710.70" stroke="#111" stroke-width="1.5" stroke-linecap="butt"/>
<text x="401.50" y="722.00" font-size="10.5" text-anchor="middle" font-weight="normal" fill="#111" stroke="#111" stroke-width="0.12">0</text>
<line x1="465.50" y1="704.40" x2="465.50" y2="710.70" stroke="#111" stroke-width="1.5" stroke-linecap="butt"/>
<text x="465.50" y="722.00" font-size="10.5" text-anchor="middle" font-weight="normal" fill="#111" stroke="#111" stroke-width="0.12">12</text>
<line x1="529.50" y1="704.40" x2="529.50" y2="710.70" stroke="#111" stroke-width="1.5" stroke-linecap="butt"/>
<text x="529.50" y="722.00" font-size="10.5" text-anchor="middle" font-weight="normal" fill="#111" stroke="#111" stroke-width="0.12">24</text>
<text x="465.50" y="731.30" font-size="10.6" text-anchor="middle" font-weight="normal" fill="#111" stroke="#111" stroke-width="0.12">Zeitgeber Time (h)</text>
<line x1="404.10" y1="577.60" x2="420.30" y2="577.60" stroke="#c571b0" stroke-width="2.3" stroke-linecap="butt"/>
<text x="429.70" y="580.70" font-size="9.5" text-anchor="start" font-weight="normal" fill="#111" stroke="#111" stroke-width="0.12">9 mo WT</text>
<line x1="404.10" y1="586.80" x2="420.30" y2="586.80" stroke="#f93214" stroke-width="2.3" stroke-linecap="butt"/>
<text x="429.70" y="589.90" font-size="9.5" text-anchor="start" font-weight="normal" fill="#111" stroke="#111" stroke-width="0.12">9 mo P301S</text>
<text x="370.80" y="638.85" font-size="11.5" text-anchor="middle" font-weight="normal" fill="#111" stroke="#111" stroke-width="0.12" transform="rotate(-90 370.80 638.85)">REM</text>
<text x="384.30" y="638.85" font-size="11.5" text-anchor="middle" font-weight="normal" fill="#111" stroke="#111" stroke-width="0.12" transform="rotate(-90 384.30 638.85)">(min/hr)</text>
<rect x="589.50" y="242.60" width="10.90" height="65.80" fill="#5d5d5d" stroke="#111" stroke-width="1.3"/>
<rect x="602.50" y="246.80" width="10.90" height="61.60" fill="#4cae80" stroke="#111" stroke-width="1.3"/>
<rect x="621.50" y="248.40" width="10.90" height="60.00" fill="#ecb536" stroke="#111" stroke-width="1.3"/>
<rect x="634.50" y="230.10" width="10.90" height="78.30" fill="#4a87f6" stroke="#111" stroke-width="1.3"/>
<rect x="653.60" y="244.60" width="10.90" height="63.80" fill="#c571b0" stroke="#111" stroke-width="1.3"/>
<rect x="666.50" y="224.60" width="10.90" height="83.80" fill="#f93214" stroke="#111" stroke-width="1.3"/>
<line x1="594.95" y1="236.30" x2="594.95" y2="248.00" stroke="#111" stroke-width="1.3" stroke-linecap="butt"/>
<line x1="591.95" y1="236.30" x2="597.95" y2="236.30" stroke="#111" stroke-width="1.3" stroke-linecap="butt"/>
<line x1="591.95" y1="248.00" x2="597.95" y2="248.00" stroke="#111" stroke-width="1.3" stroke-linecap="butt"/>
<line x1="607.95" y1="241.00" x2="607.95" y2="252.40" stroke="#111" stroke-width="1.3" stroke-linecap="butt"/>
<line x1="604.95" y1="241.00" x2="610.95" y2="241.00" stroke="#111" stroke-width="1.3" stroke-linecap="butt"/>
<line x1="604.95" y1="252.40" x2="610.95" y2="252.40" stroke="#111" stroke-width="1.3" stroke-linecap="butt"/>
<line x1="626.95" y1="241.00" x2="626.95" y2="254.00" stroke="#111" stroke-width="1.3" stroke-linecap="butt"/>
<line x1="623.95" y1="241.00" x2="629.95" y2="241.00" stroke="#111" stroke-width="1.3" stroke-linecap="butt"/>
<line x1="623.95" y1="254.00" x2="629.95" y2="254.00" stroke="#111" stroke-width="1.3" stroke-linecap="butt"/>
<line x1="639.95" y1="224.30" x2="639.95" y2="235.20" stroke="#111" stroke-width="1.3" stroke-linecap="butt"/>
<line x1="636.95" y1="224.30" x2="642.95" y2="224.30" stroke="#111" stroke-width="1.3" stroke-linecap="butt"/>
<line x1="636.95" y1="235.20" x2="642.95" y2="235.20" stroke="#111" stroke-width="1.3" stroke-linecap="butt"/>
<line x1="659.05" y1="237.40" x2="659.05" y2="249.60" stroke="#111" stroke-width="1.3" stroke-linecap="butt"/>
<line x1="656.05" y1="237.40" x2="662.05" y2="237.40" stroke="#111" stroke-width="1.3" stroke-linecap="butt"/>
<line x1="656.05" y1="249.60" x2="662.05" y2="249.60" stroke="#111" stroke-width="1.3" stroke-linecap="butt"/>
<line x1="671.95" y1="219.20" x2="671.95" y2="228.50" stroke="#111" stroke-width="1.3" stroke-linecap="butt"/>
<line x1="668.95" y1="219.20" x2="674.95" y2="219.20" stroke="#111" stroke-width="1.3" stroke-linecap="butt"/>
<line x1="668.95" y1="228.50" x2="674.95" y2="228.50" stroke="#111" stroke-width="1.3" stroke-linecap="butt"/>
<circle cx="594.70" cy="241.00" r="2.0" fill="#111"/>
<circle cx="608.10" cy="245.20" r="2.0" fill="#111"/>
<circle cx="626.80" cy="241.80" r="2.0" fill="#111"/>
<circle cx="626.80" cy="251.50" r="2.0" fill="#111"/>
<circle cx="639.60" cy="234.80" r="2.0" fill="#111"/>
<circle cx="671.90" cy="225.40" r="2.0" fill="#111"/>
<circle cx="590.46" cy="223.86" r="1.65" fill="none" stroke="#111" stroke-width="1.2"/>
<circle cx="599.04" cy="221.83" r="1.65" fill="none" stroke="#111" stroke-width="1.2"/>
<circle cx="594.67" cy="227.76" r="1.65" fill="none" stroke="#111" stroke-width="1.2"/>
<circle cx="590.46" cy="236.81" r="1.65" fill="none" stroke="#111" stroke-width="1.2"/>
<circle cx="599.04" cy="234.78" r="1.65" fill="none" stroke="#111" stroke-width="1.2"/>
<circle cx="594.67" cy="257.71" r="1.65" fill="none" stroke="#111" stroke-width="1.2"/>
<circle cx="590.46" cy="268.32" r="1.65" fill="none" stroke="#111" stroke-width="1.2"/>
<circle cx="599.04" cy="265.98" r="1.65" fill="none" stroke="#111" stroke-width="1.2"/>
<circle cx="608.09" cy="221.83" r="1.65" fill="none" stroke="#111" stroke-width="1.2"/>
<circle cx="608.09" cy="233.69" r="1.65" fill="none" stroke="#111" stroke-width="1.2"/>
<circle cx="608.09" cy="237.43" r="1.65" fill="none" stroke="#111" stroke-width="1.2"/>
<circle cx="608.09" cy="241.80" r="1.65" fill="none" stroke="#111" stroke-width="1.2"/>
<circle cx="608.09" cy="257.40" r="1.65" fill="none" stroke="#111" stroke-width="1.2"/>
<circle cx="608.09" cy="260.21" r="1.65" fill="none" stroke="#111" stroke-width="1.2"/>
<circle cx="608.09" cy="263.33" r="1.65" fill="none" stroke="#111" stroke-width="1.2"/>
<circle cx="608.09" cy="265.98" r="1.65" fill="none" stroke="#111" stroke-width="1.2"/>
<circle cx="626.81" cy="213.41" r="1.65" fill="none" stroke="#111" stroke-width="1.2"/>
<circle cx="626.81" cy="238.68" r="1.65" fill="none" stroke="#111" stroke-width="1.2"/>
<circle cx="622.44" cy="261.30" r="1.65" fill="none" stroke="#111" stroke-width="1.2"/>
<circle cx="631.02" cy="261.77" r="1.65" fill="none" stroke="#111" stroke-width="1.2"/>
<circle cx="626.81" cy="265.20" r="1.65" fill="none" stroke="#111" stroke-width="1.2"/>
<circle cx="635.70" cy="205.61" r="1.65" fill="none" stroke="#111" stroke-width="1.2"/>
<circle cx="643.97" cy="203.11" r="1.65" fill="none" stroke="#111" stroke-width="1.2"/>
<circle cx="643.97" cy="207.48" r="1.65" fill="none" stroke="#111" stroke-width="1.2"/>
<circle cx="639.91" cy="211.38" r="1.65" fill="none" stroke="#111" stroke-width="1.2"/>
<circle cx="635.70" cy="223.86" r="1.65" fill="none" stroke="#111" stroke-width="1.2"/>
<circle cx="643.97" cy="224.33" r="1.65" fill="none" stroke="#111" stroke-width="1.2"/>
<circle cx="635.70" cy="231.19" r="1.65" fill="none" stroke="#111" stroke-width="1.2"/>
<circle cx="643.97" cy="231.66" r="1.65" fill="none" stroke="#111" stroke-width="1.2"/>
<circle cx="639.60" cy="242.11" r="1.65" fill="none" stroke="#111" stroke-width="1.2"/>
<circle cx="639.60" cy="248.82" r="1.65" fill="none" stroke="#111" stroke-width="1.2"/>
<circle cx="639.60" cy="253.97" r="1.65" fill="none" stroke="#111" stroke-width="1.2"/>
<circle cx="639.60" cy="263.33" r="1.65" fill="none" stroke="#111" stroke-width="1.2"/>
<circle cx="658.63" cy="221.21" r="1.65" fill="none" stroke="#111" stroke-width="1.2"/>
<circle cx="663.00" cy="229.01" r="1.65" fill="none" stroke="#111" stroke-width="1.2"/>
<circle cx="658.63" cy="231.66" r="1.65" fill="none" stroke="#111" stroke-width="1.2"/>
<circle cx="654.42" cy="255.06" r="1.65" fill="none" stroke="#111" stroke-width="1.2"/>
<circle cx="663.00" cy="255.06" r="1.65" fill="none" stroke="#111" stroke-width="1.2"/>
<circle cx="658.63" cy="258.65" r="1.65" fill="none" stroke="#111" stroke-width="1.2"/>
<circle cx="671.90" cy="197.34" r="1.65" fill="none" stroke="#111" stroke-width="1.2"/>
<circle cx="671.90" cy="202.02" r="1.65" fill="none" stroke="#111" stroke-width="1.2"/>
<circle cx="667.68" cy="219.18" r="1.65" fill="none" stroke="#111" stroke-width="1.2"/>
<circle cx="676.26" cy="218.71" r="1.65" fill="none" stroke="#111" stroke-width="1.2"/>
<circle cx="667.68" cy="224.64" r="1.65" fill="none" stroke="#111" stroke-width="1.2"/>
<circle cx="676.26" cy="224.64" r="1.65" fill="none" stroke="#111" stroke-width="1.2"/>
<circle cx="667.68" cy="228.54" r="1.65" fill="none" stroke="#111" stroke-width="1.2"/>
<circle cx="676.26" cy="228.54" r="1.65" fill="none" stroke="#111" stroke-width="1.2"/>
<circle cx="671.90" cy="234.78" r="1.65" fill="none" stroke="#111" stroke-width="1.2"/>
<circle cx="671.90" cy="239.46" r="1.65" fill="none" stroke="#111" stroke-width="1.2"/>
<circle cx="671.90" cy="248.04" r="1.65" fill="none" stroke="#111" stroke-width="1.2"/>
<line x1="583.40" y1="176.50" x2="583.40" y2="309.05" stroke="#111" stroke-width="1.5" stroke-linecap="butt"/>
<line x1="582.75" y1="308.40" x2="683.80" y2="308.40" stroke="#111" stroke-width="1.5" stroke-linecap="butt"/>
<line x1="577.10" y1="308.40" x2="583.40" y2="308.40" stroke="#111" stroke-width="1.5" stroke-linecap="butt"/>
<text x="575.00" y="312.10" font-size="10.5" text-anchor="end" font-weight="normal" fill="#111" stroke="#111" stroke-width="0.12">20</text>
<line x1="577.10" y1="275.57" x2="583.40" y2="275.57" stroke="#111" stroke-width="1.5" stroke-linecap="butt"/>
<text x="575.00" y="279.27" font-size="10.5" text-anchor="end" font-weight="normal" fill="#111" stroke="#111" stroke-width="0.12">30</text>
<line x1="577.10" y1="242.75" x2="583.40" y2="242.75" stroke="#111" stroke-width="1.5" stroke-linecap="butt"/>
<text x="575.00" y="246.45" font-size="10.5" text-anchor="end" font-weight="normal" fill="#111" stroke="#111" stroke-width="0.12">40</text>
<line x1="577.10" y1="209.92" x2="583.40" y2="209.92" stroke="#111" stroke-width="1.5" stroke-linecap="butt"/>
<text x="575.00" y="213.62" font-size="10.5" text-anchor="end" font-weight="normal" fill="#111" stroke="#111" stroke-width="0.12">50</text>
<line x1="577.10" y1="177.10" x2="583.40" y2="177.10" stroke="#111" stroke-width="1.5" stroke-linecap="butt"/>
<text x="575.00" y="180.80" font-size="10.5" text-anchor="end" font-weight="normal" fill="#111" stroke="#111" stroke-width="0.12">60</text>
<line x1="601.40" y1="308.40" x2="601.40" y2="314.70" stroke="#111" stroke-width="1.5" stroke-linecap="butt"/>
<text x="605.00" y="324.40" font-size="10.4" text-anchor="end" font-weight="normal" fill="#111" stroke="#111" stroke-width="0.12" transform="rotate(-45 605.00 324.40)">3 mo</text>
<line x1="633.40" y1="308.40" x2="633.40" y2="314.70" stroke="#111" stroke-width="1.5" stroke-linecap="butt"/>
<text x="637.00" y="324.40" font-size="10.4" text-anchor="end" font-weight="normal" fill="#111" stroke="#111" stroke-width="0.12" transform="rotate(-45 637.00 324.40)">6 mo</text>
<line x1="665.40" y1="308.40" x2="665.40" y2="314.70" stroke="#111" stroke-width="1.5" stroke-linecap="butt"/>
<text x="669.00" y="324.40" font-size="10.4" text-anchor="end" font-weight="normal" fill="#111" stroke="#111" stroke-width="0.12" transform="rotate(-45 669.00 324.40)">9 mo</text>
<polyline points="607.60,217.70 607.60,170.40 671.90,170.40 671.90,178.20" fill="none" stroke="#111" stroke-width="1.3"/>
<text x="639.75" y="169.20" font-size="14.5" text-anchor="middle" font-weight="normal" fill="#111" stroke="#111" stroke-width="0.12">*</text>
<polyline points="626.50,207.80 626.50,188.50 640.30,188.50 640.30,198.00" fill="none" stroke="#111" stroke-width="1.3"/>
<text x="633.40" y="187.10" font-size="14.5" text-anchor="middle" font-weight="normal" fill="#111" stroke="#111" stroke-width="0.12">*</text>
<polyline points="658.50,216.40 658.50,188.50 671.90,188.50 671.90,192.70" fill="none" stroke="#111" stroke-width="1.3"/>
<text x="665.20" y="187.10" font-size="14.5" text-anchor="middle" font-weight="normal" fill="#111" stroke="#111" stroke-width="0.12">*</text>
<text x="542.60" y="242.75" font-size="11.5" text-anchor="middle" font-weight="normal" fill="#111" stroke="#111" stroke-width="0.12" transform="rotate(-90 542.60 242.75)">Wake Light</text>
<text x="556.40" y="242.75" font-size="11.5" text-anchor="middle" font-weight="normal" fill="#111" stroke="#111" stroke-width="0.12" transform="rotate(-90 556.40 242.75)">(min/hr)</text>
<rect x="589.50" y="435.20" width="10.90" height="76.70" fill="#5d5d5d" stroke="#111" stroke-width="1.3"/>
<rect x="602.50" y="433.20" width="10.90" height="78.70" fill="#4cae80" stroke="#111" stroke-width="1.3"/>
<rect x="621.50" y="430.60" width="10.90" height="81.30" fill="#ecb536" stroke="#111" stroke-width="1.3"/>
<rect x="634.50" y="452.40" width="10.90" height="59.50" fill="#4a87f6" stroke="#111" stroke-width="1.3"/>
<rect x="653.60" y="433.20" width="10.90" height="78.70" fill="#c571b0" stroke="#111" stroke-width="1.3"/>
<rect x="666.50" y="455.80" width="10.90" height="56.10" fill="#f93214" stroke="#111" stroke-width="1.3"/>
<line x1="594.95" y1="428.50" x2="594.95" y2="441.00" stroke="#111" stroke-width="1.3" stroke-linecap="butt"/>
<line x1="591.95" y1="428.50" x2="597.95" y2="428.50" stroke="#111" stroke-width="1.3" stroke-linecap="butt"/>
<line x1="591.95" y1="441.00" x2="597.95" y2="441.00" stroke="#111" stroke-width="1.3" stroke-linecap="butt"/>
<line x1="607.95" y1="427.00" x2="607.95" y2="439.50" stroke="#111" stroke-width="1.3" stroke-linecap="butt"/>
<line x1="604.95" y1="427.00" x2="610.95" y2="427.00" stroke="#111" stroke-width="1.3" stroke-linecap="butt"/>
<line x1="604.95" y1="439.50" x2="610.95" y2="439.50" stroke="#111" stroke-width="1.3" stroke-linecap="butt"/>
<line x1="626.95" y1="421.80" x2="626.95" y2="434.00" stroke="#111" stroke-width="1.3" stroke-linecap="butt"/>
<line x1="623.95" y1="421.80" x2="629.95" y2="421.80" stroke="#111" stroke-width="1.3" stroke-linecap="butt"/>
<line x1="623.95" y1="434.00" x2="629.95" y2="434.00" stroke="#111" stroke-width="1.3" stroke-linecap="butt"/>
<line x1="639.95" y1="449.60" x2="639.95" y2="458.20" stroke="#111" stroke-width="1.3" stroke-linecap="butt"/>
<line x1="636.95" y1="449.60" x2="642.95" y2="449.60" stroke="#111" stroke-width="1.3" stroke-linecap="butt"/>
<line x1="636.95" y1="458.20" x2="642.95" y2="458.20" stroke="#111" stroke-width="1.3" stroke-linecap="butt"/>
<line x1="659.05" y1="427.00" x2="659.05" y2="439.50" stroke="#111" stroke-width="1.3" stroke-linecap="butt"/>
<line x1="656.05" y1="427.00" x2="662.05" y2="427.00" stroke="#111" stroke-width="1.3" stroke-linecap="butt"/>
<line x1="656.05" y1="439.50" x2="662.05" y2="439.50" stroke="#111" stroke-width="1.3" stroke-linecap="butt"/>
<line x1="671.95" y1="452.70" x2="671.95" y2="462.10" stroke="#111" stroke-width="1.3" stroke-linecap="butt"/>
<line x1="668.95" y1="452.70" x2="674.95" y2="452.70" stroke="#111" stroke-width="1.3" stroke-linecap="butt"/>
<line x1="668.95" y1="462.10" x2="674.95" y2="462.10" stroke="#111" stroke-width="1.3" stroke-linecap="butt"/>
<circle cx="594.70" cy="430.60" r="2.0" fill="#111"/>
<circle cx="608.10" cy="432.40" r="2.0" fill="#111"/>
<circle cx="626.80" cy="437.40" r="2.0" fill="#111"/>
<circle cx="639.60" cy="454.30" r="2.0" fill="#111"/>
<circle cx="671.90" cy="460.50" r="2.0" fill="#111"/>
<circle cx="594.67" cy="407.48" r="1.65" fill="none" stroke="#111" stroke-width="1.2"/>
<circle cx="594.67" cy="411.38" r="1.65" fill="none" stroke="#111" stroke-width="1.2"/>
<circle cx="594.67" cy="415.28" r="1.65" fill="none" stroke="#111" stroke-width="1.2"/>
<circle cx="590.46" cy="447.73" r="1.65" fill="none" stroke="#111" stroke-width="1.2"/>
<circle cx="599.04" cy="447.26" r="1.65" fill="none" stroke="#111" stroke-width="1.2"/>
<circle cx="594.67" cy="452.41" r="1.65" fill="none" stroke="#111" stroke-width="1.2"/>
<circle cx="594.67" cy="463.17" r="1.65" fill="none" stroke="#111" stroke-width="1.2"/>
<circle cx="608.09" cy="414.03" r="1.65" fill="none" stroke="#111" stroke-width="1.2"/>
<circle cx="603.72" cy="420.27" r="1.65" fill="none" stroke="#111" stroke-width="1.2"/>
<circle cx="612.30" cy="417.62" r="1.65" fill="none" stroke="#111" stroke-width="1.2"/>
<circle cx="603.72" cy="443.67" r="1.65" fill="none" stroke="#111" stroke-width="1.2"/>
<circle cx="612.30" cy="446.17" r="1.65" fill="none" stroke="#111" stroke-width="1.2"/>
<circle cx="608.09" cy="456.62" r="1.65" fill="none" stroke="#111" stroke-width="1.2"/>
<circle cx="626.81" cy="405.61" r="1.65" fill="none" stroke="#111" stroke-width="1.2"/>
<circle cx="622.44" cy="414.97" r="1.65" fill="none" stroke="#111" stroke-width="1.2"/>
<circle cx="631.02" cy="414.97" r="1.65" fill="none" stroke="#111" stroke-width="1.2"/>
<circle cx="622.44" cy="434.00" r="1.65" fill="none" stroke="#111" stroke-width="1.2"/>
<circle cx="631.02" cy="432.44" r="1.65" fill="none" stroke="#111" stroke-width="1.2"/>
<circle cx="626.81" cy="467.54" r="1.65" fill="none" stroke="#111" stroke-width="1.2"/>
<circle cx="639.60" cy="416.84" r="1.65" fill="none" stroke="#111" stroke-width="1.2"/>
<circle cx="639.60" cy="424.64" r="1.65" fill="none" stroke="#111" stroke-width="1.2"/>
<circle cx="639.60" cy="430.10" r="1.65" fill="none" stroke="#111" stroke-width="1.2"/>
<circle cx="639.60" cy="444.92" r="1.65" fill="none" stroke="#111" stroke-width="1.2"/>
<circle cx="636.48" cy="450.38" r="1.65" fill="none" stroke="#111" stroke-width="1.2"/>
<circle cx="642.72" cy="450.38" r="1.65" fill="none" stroke="#111" stroke-width="1.2"/>
<circle cx="639.60" cy="457.09" r="1.65" fill="none" stroke="#111" stroke-width="1.2"/>
<circle cx="639.60" cy="468.32" r="1.65" fill="none" stroke="#111" stroke-width="1.2"/>
<circle cx="637.26" cy="476.90" r="1.65" fill="none" stroke="#111" stroke-width="1.2"/>
<circle cx="641.94" cy="476.90" r="1.65" fill="none" stroke="#111" stroke-width="1.2"/>
<circle cx="639.60" cy="483.61" r="1.65" fill="none" stroke="#111" stroke-width="1.2"/>
<circle cx="658.63" cy="413.41" r="1.65" fill="none" stroke="#111" stroke-width="1.2"/>
<circle cx="658.63" cy="417.62" r="1.65" fill="none" stroke="#111" stroke-width="1.2"/>
<circle cx="658.63" cy="421.52" r="1.65" fill="none" stroke="#111" stroke-width="1.2"/>
<circle cx="658.63" cy="446.48" r="1.65" fill="none" stroke="#111" stroke-width="1.2"/>
<circle cx="658.63" cy="451.16" r="1.65" fill="none" stroke="#111" stroke-width="1.2"/>
<circle cx="658.63" cy="455.53" r="1.65" fill="none" stroke="#111" stroke-width="1.2"/>
<circle cx="671.90" cy="420.27" r="1.65" fill="none" stroke="#111" stroke-width="1.2"/>
<circle cx="671.90" cy="437.90" r="1.65" fill="none" stroke="#111" stroke-width="1.2"/>
<circle cx="671.90" cy="441.80" r="1.65" fill="none" stroke="#111" stroke-width="1.2"/>
<circle cx="667.68" cy="450.38" r="1.65" fill="none" stroke="#111" stroke-width="1.2"/>
<circle cx="671.90" cy="450.38" r="1.65" fill="none" stroke="#111" stroke-width="1.2"/>
<circle cx="676.26" cy="450.38" r="1.65" fill="none" stroke="#111" stroke-width="1.2"/>
<circle cx="667.68" cy="453.97" r="1.65" fill="none" stroke="#111" stroke-width="1.2"/>
<circle cx="676.26" cy="453.97" r="1.65" fill="none" stroke="#111" stroke-width="1.2"/>
<circle cx="671.90" cy="464.42" r="1.65" fill="none" stroke="#111" stroke-width="1.2"/>
<circle cx="671.90" cy="480.49" r="1.65" fill="none" stroke="#111" stroke-width="1.2"/>
<circle cx="671.90" cy="487.51" r="1.65" fill="none" stroke="#111" stroke-width="1.2"/>
<line x1="583.40" y1="380.10" x2="583.40" y2="512.55" stroke="#111" stroke-width="1.5" stroke-linecap="butt"/>
<line x1="582.75" y1="511.90" x2="683.80" y2="511.90" stroke="#111" stroke-width="1.5" stroke-linecap="butt"/>
<line x1="577.10" y1="511.90" x2="583.40" y2="511.90" stroke="#111" stroke-width="1.5" stroke-linecap="butt"/>
<text x="575.00" y="515.60" font-size="10.5" text-anchor="end" font-weight="normal" fill="#111" stroke="#111" stroke-width="0.12">0</text>
<line x1="577.10" y1="468.17" x2="583.40" y2="468.17" stroke="#111" stroke-width="1.5" stroke-linecap="butt"/>
<text x="575.00" y="471.87" font-size="10.5" text-anchor="end" font-weight="normal" fill="#111" stroke="#111" stroke-width="0.12">10</text>
<line x1="577.10" y1="424.43" x2="583.40" y2="424.43" stroke="#111" stroke-width="1.5" stroke-linecap="butt"/>
<text x="575.00" y="428.13" font-size="10.5" text-anchor="end" font-weight="normal" fill="#111" stroke="#111" stroke-width="0.12">20</text>
<line x1="577.10" y1="380.70" x2="583.40" y2="380.70" stroke="#111" stroke-width="1.5" stroke-linecap="butt"/>
<text x="575.00" y="384.40" font-size="10.5" text-anchor="end" font-weight="normal" fill="#111" stroke="#111" stroke-width="0.12">30</text>
<line x1="601.40" y1="511.90" x2="601.40" y2="518.20" stroke="#111" stroke-width="1.5" stroke-linecap="butt"/>
<text x="605.00" y="527.90" font-size="10.4" text-anchor="end" font-weight="normal" fill="#111" stroke="#111" stroke-width="0.12" transform="rotate(-45 605.00 527.90)">3 mo</text>
<line x1="633.40" y1="511.90" x2="633.40" y2="518.20" stroke="#111" stroke-width="1.5" stroke-linecap="butt"/>
<text x="637.00" y="527.90" font-size="10.4" text-anchor="end" font-weight="normal" fill="#111" stroke="#111" stroke-width="0.12" transform="rotate(-45 637.00 527.90)">6 mo</text>
<line x1="665.40" y1="511.90" x2="665.40" y2="518.20" stroke="#111" stroke-width="1.5" stroke-linecap="butt"/>
<text x="669.00" y="527.90" font-size="10.4" text-anchor="end" font-weight="normal" fill="#111" stroke="#111" stroke-width="0.12" transform="rotate(-45 669.00 527.90)">9 mo</text>
<polyline points="607.60,371.50 607.60,360.40 671.90,360.40 671.90,380.70" fill="none" stroke="#111" stroke-width="1.3"/>
<text x="639.75" y="359.30" font-size="14.5" text-anchor="middle" font-weight="normal" fill="#111" stroke="#111" stroke-width="0.12">**</text>
<polyline points="607.60,409.60 607.60,378.50 640.30,378.50 640.30,386.60" fill="none" stroke="#111" stroke-width="1.3"/>
<text x="623.95" y="377.30" font-size="14.5" text-anchor="middle" font-weight="normal" fill="#111" stroke="#111" stroke-width="0.12">*</text>
<polyline points="626.50,401.10 626.50,396.80 640.30,396.80 640.30,413.00" fill="none" stroke="#111" stroke-width="1.3"/>
<text x="633.40" y="395.30" font-size="14.5" text-anchor="middle" font-weight="normal" fill="#111" stroke="#111" stroke-width="0.12">*</text>
<polyline points="658.50,409.00 658.50,396.80 671.90,396.80 671.90,416.90" fill="none" stroke="#111" stroke-width="1.3"/>
<text x="665.20" y="395.30" font-size="14.5" text-anchor="middle" font-weight="normal" fill="#111" stroke="#111" stroke-width="0.12">*</text>
<text x="545.60" y="446.30" font-size="11.5" text-anchor="middle" font-weight="normal" fill="#111" stroke="#111" stroke-width="0.12" transform="rotate(-90 545.60 446.30)">NREM Light</text>
<text x="559.60" y="446.30" font-size="11.5" text-anchor="middle" font-weight="normal" fill="#111" stroke="#111" stroke-width="0.12" transform="rotate(-90 559.60 446.30)">(min/hr)</text>
<rect x="589.50" y="672.20" width="10.90" height="32.50" fill="#5d5d5d" stroke="#111" stroke-width="1.3"/>
<rect x="602.50" y="641.50" width="10.90" height="63.20" fill="#4cae80" stroke="#111" stroke-width="1.3"/>
<rect x="621.50" y="651.20" width="10.90" height="53.50" fill="#ecb536" stroke="#111" stroke-width="1.3"/>
<rect x="634.50" y="662.10" width="10.90" height="42.60" fill="#4a87f6" stroke="#111" stroke-width="1.3"/>
<rect x="653.60" y="657.40" width="10.90" height="47.30" fill="#c571b0" stroke="#111" stroke-width="1.3"/>
<rect x="666.50" y="683.10" width="10.90" height="21.60" fill="#f93214" stroke="#111" stroke-width="1.3"/>
<line x1="594.95" y1="663.20" x2="594.95" y2="680.00" stroke="#111" stroke-width="1.3" stroke-linecap="butt"/>
<line x1="591.95" y1="663.20" x2="597.95" y2="663.20" stroke="#111" stroke-width="1.3" stroke-linecap="butt"/>
<line x1="591.95" y1="680.00" x2="597.95" y2="680.00" stroke="#111" stroke-width="1.3" stroke-linecap="butt"/>
<line x1="607.95" y1="630.90" x2="607.95" y2="650.90" stroke="#111" stroke-width="1.3" stroke-linecap="butt"/>
<line x1="604.95" y1="630.90" x2="610.95" y2="630.90" stroke="#111" stroke-width="1.3" stroke-linecap="butt"/>
<line x1="604.95" y1="650.90" x2="610.95" y2="650.90" stroke="#111" stroke-width="1.3" stroke-linecap="butt"/>
<line x1="626.95" y1="636.30" x2="626.95" y2="664.40" stroke="#111" stroke-width="1.3" stroke-linecap="butt"/>
<line x1="623.95" y1="636.30" x2="629.95" y2="636.30" stroke="#111" stroke-width="1.3" stroke-linecap="butt"/>
<line x1="623.95" y1="664.40" x2="629.95" y2="664.40" stroke="#111" stroke-width="1.3" stroke-linecap="butt"/>
<line x1="639.95" y1="653.50" x2="639.95" y2="668.30" stroke="#111" stroke-width="1.3" stroke-linecap="butt"/>
<line x1="636.95" y1="653.50" x2="642.95" y2="653.50" stroke="#111" stroke-width="1.3" stroke-linecap="butt"/>
<line x1="636.95" y1="668.30" x2="642.95" y2="668.30" stroke="#111" stroke-width="1.3" stroke-linecap="butt"/>
<line x1="659.05" y1="646.50" x2="659.05" y2="666.80" stroke="#111" stroke-width="1.3" stroke-linecap="butt"/>
<line x1="656.05" y1="646.50" x2="662.05" y2="646.50" stroke="#111" stroke-width="1.3" stroke-linecap="butt"/>
<line x1="656.05" y1="666.80" x2="662.05" y2="666.80" stroke="#111" stroke-width="1.3" stroke-linecap="butt"/>
<line x1="671.95" y1="679.20" x2="671.95" y2="688.60" stroke="#111" stroke-width="1.3" stroke-linecap="butt"/>
<line x1="668.95" y1="679.20" x2="674.95" y2="679.20" stroke="#111" stroke-width="1.3" stroke-linecap="butt"/>
<line x1="668.95" y1="688.60" x2="674.95" y2="688.60" stroke="#111" stroke-width="1.3" stroke-linecap="butt"/>
<circle cx="594.70" cy="674.60" r="2.0" fill="#111"/>
<circle cx="608.10" cy="632.40" r="2.0" fill="#111"/>
<circle cx="608.10" cy="648.80" r="2.0" fill="#111"/>
<circle cx="626.80" cy="646.50" r="2.0" fill="#111"/>
<circle cx="639.60" cy="658.70" r="2.0" fill="#111"/>
<circle cx="658.60" cy="646.80" r="2.0" fill="#111"/>
<circle cx="671.90" cy="681.60" r="2.0" fill="#111"/>
<circle cx="594.67" cy="636.81" r="1.65" fill="none" stroke="#111" stroke-width="1.2"/>
<circle cx="594.67" cy="643.67" r="1.65" fill="none" stroke="#111" stroke-width="1.2"/>
<circle cx="594.67" cy="653.50" r="1.65" fill="none" stroke="#111" stroke-width="1.2"/>
<circle cx="594.67" cy="687.04" r="1.65" fill="none" stroke="#111" stroke-width="1.2"/>
<circle cx="594.67" cy="691.72" r="1.65" fill="none" stroke="#111" stroke-width="1.2"/>
<circle cx="590.93" cy="694.06" r="1.65" fill="none" stroke="#111" stroke-width="1.2"/>
<circle cx="599.04" cy="694.06" r="1.65" fill="none" stroke="#111" stroke-width="1.2"/>
<circle cx="608.09" cy="609.82" r="1.65" fill="none" stroke="#111" stroke-width="1.2"/>
<circle cx="608.09" cy="616.06" r="1.65" fill="none" stroke="#111" stroke-width="1.2"/>
<circle cx="608.09" cy="626.98" r="1.65" fill="none" stroke="#111" stroke-width="1.2"/>
<circle cx="608.09" cy="671.44" r="1.65" fill="none" stroke="#111" stroke-width="1.2"/>
<circle cx="608.09" cy="681.58" r="1.65" fill="none" stroke="#111" stroke-width="1.2"/>
<circle cx="622.44" cy="606.70" r="1.65" fill="none" stroke="#111" stroke-width="1.2"/>
<circle cx="631.02" cy="607.48" r="1.65" fill="none" stroke="#111" stroke-width="1.2"/>
<circle cx="626.81" cy="629.32" r="1.65" fill="none" stroke="#111" stroke-width="1.2"/>
<circle cx="626.81" cy="680.80" r="1.65" fill="none" stroke="#111" stroke-width="1.2"/>
<circle cx="626.81" cy="686.26" r="1.65" fill="none" stroke="#111" stroke-width="1.2"/>
<circle cx="626.81" cy="695.62" r="1.65" fill="none" stroke="#111" stroke-width="1.2"/>
<circle cx="639.60" cy="611.38" r="1.65" fill="none" stroke="#111" stroke-width="1.2"/>
<circle cx="635.70" cy="630.88" r="1.65" fill="none" stroke="#111" stroke-width="1.2"/>
<circle cx="638.82" cy="633.22" r="1.65" fill="none" stroke="#111" stroke-width="1.2"/>
<circle cx="641.94" cy="633.22" r="1.65" fill="none" stroke="#111" stroke-width="1.2"/>
<circle cx="644.28" cy="631.66" r="1.65" fill="none" stroke="#111" stroke-width="1.2"/>
<circle cx="638.04" cy="674.56" r="1.65" fill="none" stroke="#111" stroke-width="1.2"/>
<circle cx="641.16" cy="675.34" r="1.65" fill="none" stroke="#111" stroke-width="1.2"/>
<circle cx="639.60" cy="680.80" r="1.65" fill="none" stroke="#111" stroke-width="1.2"/>
<circle cx="639.60" cy="685.48" r="1.65" fill="none" stroke="#111" stroke-width="1.2"/>
<circle cx="639.60" cy="690.16" r="1.65" fill="none" stroke="#111" stroke-width="1.2"/>
<circle cx="639.60" cy="694.06" r="1.65" fill="none" stroke="#111" stroke-width="1.2"/>
<circle cx="639.60" cy="697.96" r="1.65" fill="none" stroke="#111" stroke-width="1.2"/>
<circle cx="658.63" cy="623.08" r="1.65" fill="none" stroke="#111" stroke-width="1.2"/>
<circle cx="654.42" cy="641.02" r="1.65" fill="none" stroke="#111" stroke-width="1.2"/>
<circle cx="663.00" cy="638.68" r="1.65" fill="none" stroke="#111" stroke-width="1.2"/>
<circle cx="658.63" cy="677.68" r="1.65" fill="none" stroke="#111" stroke-width="1.2"/>
<circle cx="658.63" cy="682.36" r="1.65" fill="none" stroke="#111" stroke-width="1.2"/>
<circle cx="658.63" cy="687.82" r="1.65" fill="none" stroke="#111" stroke-width="1.2"/>
<circle cx="671.90" cy="660.52" r="1.65" fill="none" stroke="#111" stroke-width="1.2"/>
<circle cx="667.68" cy="667.54" r="1.65" fill="none" stroke="#111" stroke-width="1.2"/>
<circle cx="671.90" cy="667.54" r="1.65" fill="none" stroke="#111" stroke-width="1.2"/>
<circle cx="676.26" cy="666.76" r="1.65" fill="none" stroke="#111" stroke-width="1.2"/>
<circle cx="671.90" cy="672.22" r="1.65" fill="none" stroke="#111" stroke-width="1.2"/>
<circle cx="671.90" cy="676.12" r="1.65" fill="none" stroke="#111" stroke-width="1.2"/>
<circle cx="671.90" cy="687.04" r="1.65" fill="none" stroke="#111" stroke-width="1.2"/>
<circle cx="667.68" cy="695.62" r="1.65" fill="none" stroke="#111" stroke-width="1.2"/>
<circle cx="676.26" cy="694.06" r="1.65" fill="none" stroke="#111" stroke-width="1.2"/>
<circle cx="671.90" cy="697.96" r="1.65" fill="none" stroke="#111" stroke-width="1.2"/>
<circle cx="670.02" cy="702.64" r="1.65" fill="none" stroke="#111" stroke-width="1.2"/>
<circle cx="676.26" cy="698.74" r="1.65" fill="none" stroke="#111" stroke-width="1.2"/>
<line x1="583.40" y1="572.80" x2="583.40" y2="705.35" stroke="#111" stroke-width="1.5" stroke-linecap="butt"/>
<line x1="582.75" y1="704.70" x2="683.80" y2="704.70" stroke="#111" stroke-width="1.5" stroke-linecap="butt"/>
<line x1="577.10" y1="704.70" x2="583.40" y2="704.70" stroke="#111" stroke-width="1.5" stroke-linecap="butt"/>
<text x="575.00" y="708.40" font-size="10.5" text-anchor="end" font-weight="normal" fill="#111" stroke="#111" stroke-width="0.12">0</text>
<line x1="577.10" y1="660.93" x2="583.40" y2="660.93" stroke="#111" stroke-width="1.5" stroke-linecap="butt"/>
<text x="575.00" y="664.63" font-size="10.5" text-anchor="end" font-weight="normal" fill="#111" stroke="#111" stroke-width="0.12">2</text>
<line x1="577.10" y1="617.17" x2="583.40" y2="617.17" stroke="#111" stroke-width="1.5" stroke-linecap="butt"/>
<text x="575.00" y="620.87" font-size="10.5" text-anchor="end" font-weight="normal" fill="#111" stroke="#111" stroke-width="0.12">4</text>
<line x1="577.10" y1="573.40" x2="583.40" y2="573.40" stroke="#111" stroke-width="1.5" stroke-linecap="butt"/>
<text x="575.00" y="577.10" font-size="10.5" text-anchor="end" font-weight="normal" fill="#111" stroke="#111" stroke-width="0.12">6</text>
<line x1="601.40" y1="704.70" x2="601.40" y2="711.00" stroke="#111" stroke-width="1.5" stroke-linecap="butt"/>
<text x="605.00" y="720.70" font-size="10.4" text-anchor="end" font-weight="normal" fill="#111" stroke="#111" stroke-width="0.12" transform="rotate(-45 605.00 720.70)">3 mo</text>
<line x1="633.40" y1="704.70" x2="633.40" y2="711.00" stroke="#111" stroke-width="1.5" stroke-linecap="butt"/>
<text x="637.00" y="720.70" font-size="10.4" text-anchor="end" font-weight="normal" fill="#111" stroke="#111" stroke-width="0.12" transform="rotate(-45 637.00 720.70)">6 mo</text>
<line x1="665.40" y1="704.70" x2="665.40" y2="711.00" stroke="#111" stroke-width="1.5" stroke-linecap="butt"/>
<text x="669.00" y="720.70" font-size="10.4" text-anchor="end" font-weight="normal" fill="#111" stroke="#111" stroke-width="0.12" transform="rotate(-45 669.00 720.70)">9 mo</text>
<polyline points="607.70,600.20 607.70,582.20 672.00,582.20 672.00,592.60" fill="none" stroke="#111" stroke-width="1.3"/>
<text x="639.85" y="581.10" font-size="14.5" text-anchor="middle" font-weight="normal" fill="#111" stroke="#111" stroke-width="0.12">**</text>
<polyline points="658.50,616.60 658.50,608.30 672.00,608.30 672.00,654.30" fill="none" stroke="#111" stroke-width="1.3"/>
<text x="665.25" y="607.20" font-size="14.5" text-anchor="middle" font-weight="normal" fill="#111" stroke="#111" stroke-width="0.12">*</text>
<text x="548.60" y="639.05" font-size="11.5" text-anchor="middle" font-weight="normal" fill="#111" stroke="#111" stroke-width="0.12" transform="rotate(-90 548.60 639.05)">REM Light</text>
<text x="562.60" y="639.05" font-size="11.5" text-anchor="middle" font-weight="normal" fill="#111" stroke="#111" stroke-width="0.12" transform="rotate(-90 562.60 639.05)">(min/hr)</text>
<text x="12.00" y="13.80" font-size="17.6" text-anchor="start" font-weight="normal" fill="#000" stroke="#000" stroke-width="0.12">A</text>
<text x="12.00" y="162.30" font-size="18.2" text-anchor="start" font-weight="normal" fill="#000" stroke="#000" stroke-width="0.12">B</text>
<text x="12.20" y="355.40" font-size="18.2" text-anchor="start" font-weight="normal" fill="#000" stroke="#000" stroke-width="0.12">C</text>
<text x="12.20" y="558.00" font-size="18.2" text-anchor="start" font-weight="normal" fill="#000" stroke="#000" stroke-width="0.12">D</text>
<path d="M36,106 Q24.0,101.5 12,100" stroke="#cfcfcf" stroke-width="0.55" fill="none"/>
<path d="M36,109 Q19.5,107.0 3,108" stroke="#cfcfcf" stroke-width="0.55" fill="none"/>
<path d="M37,112 Q20.0,113.0 3,117" stroke="#cfcfcf" stroke-width="0.55" fill="none"/>
<path d="M39,115 Q23.5,119.0 8,126" stroke="#cfcfcf" stroke-width="0.55" fill="none"/>
<path d="M42,118 Q30.0,124.5 18,134" stroke="#cfcfcf" stroke-width="0.55" fill="none"/>
<path d="M46,121 Q37.0,127.5 28,137" stroke="#cfcfcf" stroke-width="0.55" fill="none"/>
<path d="M79,106 Q91.0,101.5 103,100" stroke="#cfcfcf" stroke-width="0.55" fill="none"/>
<path d="M79,109 Q95.5,107.0 112,108" stroke="#cfcfcf" stroke-width="0.55" fill="none"/>
<path d="M78,112 Q95.0,113.0 112,117" stroke="#cfcfcf" stroke-width="0.55" fill="none"/>
<path d="M76,115 Q91.5,119.0 107,126" stroke="#cfcfcf" stroke-width="0.55" fill="none"/>
<path d="M73,118 Q85.0,124.5 97,134" stroke="#cfcfcf" stroke-width="0.55" fill="none"/>
<path d="M69,121 Q78.0,127.5 87,137" stroke="#cfcfcf" stroke-width="0.55" fill="none"/>
<ellipse cx="29.6" cy="74.9" rx="11.9" ry="14.9" transform="rotate(-12 29.6 74.9)" fill="#4c4745"/>
<ellipse cx="29.0" cy="75.3" rx="10.9" ry="13.9" transform="rotate(-12 29.0 75.3)" fill="#b98985"/>
<ellipse cx="29.3" cy="76.6" rx="8.8" ry="11.2" transform="rotate(-12 29.3 76.6)" fill="#c49a95"/>
<path d="M26,76.5 Q26.8,71.6 33.5,71.6" stroke="#a9736f" stroke-width="1.3" fill="none" stroke-linecap="round"/>
<ellipse cx="86.3" cy="74.3" rx="11.9" ry="14.9" transform="rotate(12 86.3 74.3)" fill="#4c4745"/>
<ellipse cx="86.9" cy="74.7" rx="10.9" ry="13.9" transform="rotate(12 86.9 74.7)" fill="#b98985"/>
<ellipse cx="86.6" cy="76.0" rx="8.8" ry="11.2" transform="rotate(12 86.6 76.0)" fill="#c49a95"/>
<path d="M89.9,75.9 Q89.1,71.0 82.4,71.0" stroke="#a9736f" stroke-width="1.3" fill="none" stroke-linecap="round"/>
<path d="M41.5,72.6 C50,70.3 66,70.3 75,72.6 C81,76 85.5,86 87,97 C88,105 86.5,111 83,115 C76,121 65,127.6 57.2,127.6 C49.5,127.6 38.5,121 31.5,115 C28,111 27,105 28,97 C29.5,86 34,76 41.5,72.6 Z" fill="#4c4745"/>
<path d="M40,117 C46,123 52,126.5 57.2,126.5 C62.5,126.5 68.5,123 74.5,117 C68,121 62,122.5 57.2,122.5 C52.5,122.5 46,121 40,117 Z" fill="#57514f"/>
<path d="M43,76 Q58.5,72.5 74.5,76 Q77.5,85 75,92 Q71,95.5 67,94.7 Q62,94 58.4,92.2 Q55,94 51,94.7 Q46,95.5 42.5,92 Q39.5,85 43,76 Z" fill="#e4bab4"/>
<path d="M46.5,80 Q58.5,76.5 71,80 Q73,85.5 70,89.5 Q64,91.5 58.5,88.5 Q53,91.5 47.5,89.5 Q44.5,85.5 46.5,80 Z" fill="#eed0cb"/>
<path d="M48.5,81.5 Q58.5,78.5 69,81.5" stroke="#f6e1dd" stroke-width="0.7" fill="none"/>
<path d="M58.5,74 L58.5,88" stroke="#d9aaa3" stroke-width="0.6"/>
<ellipse cx="44.8" cy="99.0" rx="3.1" ry="3.4" fill="#1d1514"/>
<circle cx="43.9" cy="97.9" r="0.7" fill="#8a8080"/>
<ellipse cx="69.6" cy="99.0" rx="3.1" ry="3.4" fill="#1d1514"/>
<circle cx="68.69999999999999" cy="97.9" r="0.7" fill="#8a8080"/>
<ellipse cx="57.2" cy="119.5" rx="4.1" ry="2.7" fill="#c98c88"/>
<rect x="51.9" y="68.4" width="2.6" height="7.2" fill="#9aa5b1"/>
<rect x="51.6" y="68.0" width="3.2" height="1.4" fill="#c5ccd3"/>
<rect x="57.8" y="68.4" width="2.6" height="7.2" fill="#9aa5b1"/>
<rect x="57.5" y="68.0" width="3.2" height="1.4" fill="#c5ccd3"/>
<rect x="62.8" y="68.4" width="2.6" height="7.2" fill="#9aa5b1"/>
<rect x="62.5" y="68.0" width="3.2" height="1.4" fill="#c5ccd3"/>
<path d="M17.70,49.80 C17.60,50.78 16.55,54.27 17.10,55.70 C17.65,57.13 18.60,58.18 21.00,58.40 C23.40,58.62 28.22,56.78 31.50,57.00 C34.78,57.22 37.85,58.82 40.70,59.70 C43.55,60.58 46.62,61.22 48.60,62.30 C50.58,63.38 51.72,65.10 52.60,66.20 C53.48,67.30 53.68,68.45 53.90,68.90" stroke="#f07d2a" stroke-width="2.0" fill="none" stroke-linecap="round"/>
<path d="M28.20,48.50 C27.43,48.83 24.58,49.73 23.60,50.50 C22.62,51.27 21.85,52.55 22.30,53.10 C22.75,53.65 23.23,53.92 26.30,53.80 C29.37,53.68 37.53,52.08 40.70,52.40 C43.87,52.72 44.53,53.83 45.30,55.70 C46.07,57.57 44.53,61.85 45.30,63.60 C46.07,65.35 48.03,65.53 49.90,66.20 C51.77,66.87 55.40,67.37 56.50,67.60" stroke="#e6d03a" stroke-width="2.0" fill="none" stroke-linecap="round"/>
<path d="M47.30,29.50 C47.52,30.03 47.28,31.83 48.60,32.70 C49.92,33.57 53.12,33.48 55.20,34.70 C57.28,35.92 59.78,38.03 61.10,40.00 C62.42,41.97 63.32,44.32 63.10,46.50 C62.88,48.68 60.68,51.35 59.80,53.10 C58.92,54.85 57.47,55.47 57.80,57.00 C58.13,58.53 60.77,60.32 61.80,62.30 C62.83,64.28 63.63,67.80 64.00,68.90" stroke="#2f8f62" stroke-width="2.0" fill="none" stroke-linecap="round"/>
<path d="M63.10,28.80 C62.77,30.45 61.98,35.30 61.10,38.70 C60.22,42.10 58.45,45.92 57.80,49.20 C57.15,52.48 56.98,55.33 57.20,58.40 C57.42,61.47 58.78,66.07 59.10,67.60" stroke="#4a93dc" stroke-width="2.0" fill="none" stroke-linecap="round"/>
<path d="M75.50,28.10 C75.40,28.77 76.10,31.22 74.90,32.10 C73.70,32.98 70.27,32.53 68.30,33.40 C66.33,34.27 64.85,35.77 63.10,37.30 C61.35,38.83 59.23,41.07 57.80,42.60 C56.37,44.13 54.93,45.18 54.50,46.50 C54.07,47.82 54.43,49.18 55.20,50.50 C55.97,51.82 58.88,53.08 59.10,54.40 C59.32,55.72 57.37,57.08 56.50,58.40 C55.63,59.72 54.45,60.67 53.90,62.30 C53.35,63.93 53.32,67.22 53.20,68.20" stroke="#a53c98" stroke-width="2.0" fill="none" stroke-linecap="round"/>
<text x="48.00" y="25.40" font-size="11.0" text-anchor="start" font-weight="normal" fill="#111" stroke="#111" stroke-width="0.12">EEGs</text>
<text x="7.40" y="44.20" font-size="11.0" text-anchor="start" font-weight="normal" fill="#111" stroke="#111" stroke-width="0.12">EMGs</text>
<path d="M137.80,65.20 L139.07,80.54 L140.20,59.42 L141.36,74.83 L142.38,57.33 L143.56,89.88 L144.84,64.92 L145.80,86.70 L146.73,61.31 L147.64,80.20 L148.88,64.80 L149.98,80.29 L150.99,68.02 L152.22,79.58 L153.22,62.51 L154.42,82.23 L155.48,68.53 L156.38,89.37 L157.47,70.11 L158.39,81.89 L159.40,60.67 L160.69,74.91 L161.69,62.58 L162.91,86.92 L163.98,57.88 L164.94,78.58 L166.01,61.11 L167.29,75.56 L168.55,60.24 L169.79,78.50 L171.09,61.19 L172.29,79.48 L173.22,58.92 L174.22,79.86 L175.30,69.81 L176.43,75.14 L177.39,68.64 L178.39,88.18 L179.67,56.35 L180.92,80.11 L181.86,56.26 L182.86,79.28 L184.09,66.53 L185.06,78.34 L186.05,63.74 L187.20,89.42 L188.18,61.12 L189.26,84.23 L190.30,67.34 L191.35,77.93 L192.51,65.08 L193.47,83.13 L194.73,63.19 L195.64,80.41 L196.83,63.00 L197.76,81.69 L199.02,64.48 L200.24,75.73 L201.41,68.45" stroke="#111" stroke-width="1.3" fill="none" stroke-linejoin="round"/>
<path d="M138.40,105.34 L139.45,111.69 L140.42,106.41 L141.37,111.78 L142.15,105.74 L143.25,112.49 L144.26,106.39 L145.26,111.71 L146.17,105.22 L146.95,112.15 L147.71,105.84 L148.63,110.80 L149.62,106.11 L150.58,112.59 L151.42,107.37 L152.28,112.14 L153.35,106.77 L154.25,111.22 L155.23,107.55 L156.13,111.07 L157.19,107.24 L158.15,112.79 L159.19,106.46 L160.19,112.14 L161.10,107.42 L161.92,110.41 L162.84,107.36 L163.89,111.37 L164.66,107.84 L165.72,109.78 L166.67,107.37 L167.70,112.71 L168.46,106.49 L169.29,113.06 L170.19,106.83 L171.17,111.07 L172.16,104.96 L173.08,112.53 L173.83,103.54 L174.83,112.53 L175.68,104.20 L176.67,114.31 L177.64,102.07 L178.53,115.72 L179.59,105.55 L180.67,115.36 L181.46,103.64 L182.43,116.33 L183.32,103.04 L184.37,115.74 L185.45,103.59 L186.43,112.67 L187.43,101.74 L188.41,115.33 L189.23,101.32 L190.33,116.68 L191.26,101.89 L192.13,116.33 L193.18,104.19 L193.96,113.89 L194.90,102.01 L195.82,111.75 L196.85,107.43 L197.88,110.42 L198.75,105.78 L199.55,110.36 L200.48,105.93" stroke="#111" stroke-width="1.3" fill="none" stroke-linejoin="round"/>
<path d="M207.17,72.56 L208.80,57.91 L209.56,89.38 L210.43,63.33 L211.51,66.05 L213.14,79.07 L214.77,64.42 L216.40,72.56 L217.81,82.33 L219.11,75.82 L220.19,81.24 L221.28,71.47 L222.36,84.50 L223.99,70.39 L226.16,52.48 L227.25,71.47 L228.88,50.85 L229.74,83.41 L231.05,74.73 L231.59,83.41 L233.00,69.30 L233.76,93.72 L235.93,81.24 L238.10,62.79 L239.51,66.05 L240.60,44.34 L241.36,79.07 L242.77,61.71 L243.85,57.36 L245.16,68.22 L245.70,85.58 L246.78,67.13 L247.33,92.09 L248.41,76.90 L249.50,81.24 L250.58,79.07 L251.67,84.50 L252.54,60.62 L253.84,66.05 L254.92,59.54 L256.01,73.64 L257.64,54.11 L259.27,88.84 L261.22,54.11 L262.52,90.47 L264.15,70.39 L265.78,79.07 L267.41,66.05 L269.03,58.99 L270.66,71.47" stroke="#111" stroke-width="1.3" fill="none" stroke-linejoin="round"/>
<path d="M207.40,106.81 L208.85,111.45 L210.41,106.43 L211.96,110.15 L213.24,105.78 L214.63,111.63 L215.70,107.30 L216.85,111.02 L218.19,108.76 L219.32,110.58 L220.87,106.35 L221.97,111.46 L223.05,106.82 L224.13,110.10 L225.65,108.13 L226.78,111.77 L228.30,107.87 L229.88,111.02 L231.29,108.14 L232.85,111.27 L234.43,105.94 L235.61,110.71 L236.71,108.33 L237.75,110.61 L239.11,108.79 L240.52,110.67 L241.70,106.18 L242.99,110.64 L244.28,106.55 L245.32,111.76 L246.33,106.40 L247.84,110.13 L249.31,107.63 L250.66,110.12 L251.68,108.22 L253.26,110.43 L254.71,105.83 L256.28,110.69 L257.49,107.12 L258.95,110.28 L260.40,106.25 L261.92,110.16 L263.49,108.51 L264.69,111.14 L266.24,107.71 L267.80,111.03 L268.98,107.79 L270.09,110.23" stroke="#111" stroke-width="1.2" fill="none" stroke-linejoin="round"/>
<path d="M275.68,80.48 L277.78,59.99 L280.41,83.63 L282.51,61.04 L285.14,79.43 L287.56,63.14 L289.87,85.74 L292.50,64.19 L294.91,81.53 L296.91,59.99 L299.12,81.53 L301.75,62.09 L304.06,80.48 L306.16,63.66 L308.79,82.06 L311.21,60.51 L313.52,83.63 L315.62,62.09 L317.72,83.11 L319.82,58.93 L322.45,85.21 L324.24,61.04 L327.18,82.58 L329.28,60.51 L332.96,81.53 L335.06,61.04 L336.33,81.53 L337.69,71.02 L338.43,77.33 L339.27,61.04 L340.32,69.97" stroke="#111" stroke-width="1.3" fill="none" stroke-linejoin="round"/>
<path d="M275.60,107.50 L276.20,106.30 L277.10,110.62 L277.40,106.40 L278.36,106.30 L279.26,109.21 L279.56,106.40 L280.90,106.30 L281.20,109.99 L282.20,108.52 L282.40,106.40 L283.49,106.30 L283.79,110.92 L284.79,109.07 L284.99,106.40 L285.91,106.30 L286.81,109.22 L287.11,106.40 L287.94,106.30 L288.84,110.19 L289.14,106.40 L290.07,106.30 L290.97,110.71 L291.27,106.40 L292.70,106.30 L293.00,110.83 L294.00,109.02 L294.20,106.40 L295.14,106.30 L296.04,109.43 L296.34,106.40 L297.43,106.30 L298.33,110.10 L298.63,106.40 L300.29,106.30 L300.59,111.25 L301.59,109.27 L301.79,106.40 L302.77,106.30 L303.07,110.70 L304.07,108.94 L304.27,106.40 L305.07,106.30 L305.37,109.99 L306.37,108.51 L306.57,106.40 L307.44,106.30 L308.34,111.27 L308.64,106.40 L310.07,106.30 L310.37,110.20 L311.37,108.64 L311.57,106.40 L312.16,106.30 L313.06,109.70 L313.36,106.40 L315.03,106.30 L315.93,109.89 L316.23,106.40 L317.80,106.30 L318.70,110.63 L319.00,106.40 L320.56,106.30 L321.46,109.90 L321.76,106.40 L322.84,106.30 L323.74,110.17 L324.04,106.40 L325.53,106.30 L326.43,109.75 L326.73,106.40 L328.18,106.30 L328.48,110.38 L329.48,108.75 L329.68,106.40 L330.73,106.30 L331.63,109.65 L331.93,106.40 L333.19,106.30 L334.09,110.90 L334.39,106.40 L334.50,106.40 L340.80,106.30" stroke="#111" stroke-width="1.2" fill="none" stroke-linejoin="round"/>
<text x="154.00" y="38.40" font-size="10.9" text-anchor="start" font-weight="normal" fill="#111" stroke="#111" stroke-width="0.12">Wake</text>
<text x="222.60" y="38.40" font-size="10.9" text-anchor="start" font-weight="normal" fill="#111" stroke="#111" stroke-width="0.12">NREM</text>
<text x="297.60" y="38.40" font-size="10.9" text-anchor="start" font-weight="normal" fill="#111" stroke="#111" stroke-width="0.12">REM</text>
<text x="110.60" y="79.60" font-size="10.2" text-anchor="start" font-weight="normal" fill="#111" stroke="#111" stroke-width="0.12">EEG</text>
<text x="108.90" y="111.70" font-size="10.2" text-anchor="start" font-weight="normal" fill="#111" stroke="#111" stroke-width="0.12">EMG</text>
<rect x="375.36" y="34.3" width="6.83" height="80.80" fill="#f2e1e7"/>
<rect x="382.66" y="44.8" width="8.24" height="70.30" fill="#e4d4b3"/>
<rect x="391.61" y="34.3" width="9.18" height="80.80" fill="#d9efe8"/>
<rect x="401.27" y="66.3" width="42.39" height="48.80" fill="#d0d4e9"/>
<rect x="444.36" y="84.2" width="69.12" height="30.90" fill="#ddeef8"/>
<text x="379.10" y="80.80" dy="2" font-size="5.6" text-anchor="middle" font-weight="bold" fill="#222" stroke="#222" stroke-width="0.0" transform="rotate(-90 379.10 80.80)">delta</text>
<text x="388.00" y="80.80" dy="2" font-size="5.6" text-anchor="middle" font-weight="bold" fill="#222" stroke="#222" stroke-width="0.0" transform="rotate(-90 388.00 80.80)">theta</text>
<text x="396.50" y="80.40" dy="2" font-size="5.6" text-anchor="middle" font-weight="bold" fill="#222" stroke="#222" stroke-width="0.0" transform="rotate(-90 396.50 80.40)">alpha</text>
<text x="422.70" y="92.60" dy="2" font-size="5.6" text-anchor="middle" font-weight="bold" fill="#222" stroke="#222" stroke-width="0.0" transform="rotate(-90 422.70 92.60)">beta</text>
<text x="483.80" y="101.20" dy="2" font-size="5.6" text-anchor="middle" font-weight="bold" fill="#222" stroke="#222" stroke-width="0.0" transform="rotate(-90 483.80 101.20)">gamma</text>
<path d="M374.20,25.80 L380.50,44.80 L382.40,41.50 L385.70,46.80 L388.40,49.40 L389.00,43.50 L391.00,45.50 L393.60,40.90 L395.60,20.50 L397.60,35.00 L400.20,63.90 L402.80,61.20 L405.40,63.90 L408.10,61.20 L409.40,67.80 L411.40,57.30 L412.00,67.80 L417.30,52.70 L421.20,62.60 L425.10,77.00 L427.80,71.80 L431.90,81.60 L435.40,75.80 L437.50,80.20 L439.60,72.60 L441.00,80.20 L442.80,76.10 L446.50,85.80 L450.00,76.80 L452.00,84.40 L455.50,87.20 L459.70,79.50 L461.80,85.80 L464.50,80.90 L466.30,80.90 L469.40,84.40 L473.50,89.20 L476.00,94.10 L477.00,86.50 L480.50,83.70 L482.60,88.50 L484.00,89.20 L488.80,84.40 L491.60,89.90 L495.00,83.70 L499.20,92.00 L501.30,87.90 L502.70,91.30 L506.80,87.90 L508.90,92.00 L512.40,84.40 L513.80,91.30" stroke="#ec2620" stroke-width="1.9" fill="none" stroke-linejoin="round"/>
<rect x="374.4" y="17.2" width="140.40" height="97.90" fill="none" stroke="#111" stroke-width="1.3"/>
<text x="371.6" y="19.00" font-size="5.0" text-anchor="end" font-weight="bold" fill="#222">10<tspan font-size="3.4" dy="-2">2</tspan></text>
<text x="371.6" y="43.40" font-size="5.0" text-anchor="end" font-weight="bold" fill="#222">10<tspan font-size="3.4" dy="-2">1</tspan></text>
<text x="371.6" y="67.00" font-size="5.0" text-anchor="end" font-weight="bold" fill="#222">10<tspan font-size="3.4" dy="-2">0</tspan></text>
<text x="371.6" y="92.00" font-size="5.0" text-anchor="end" font-weight="bold" fill="#222">10<tspan font-size="3.4" dy="-2">-1</tspan></text>
<text x="371.6" y="116.90" font-size="5.0" text-anchor="end" font-weight="bold" fill="#222">10<tspan font-size="3.4" dy="-2">-2</tspan></text>
<text x="374.60" y="122.00" font-size="5.4" text-anchor="middle" font-weight="bold" fill="#222" stroke="#222" stroke-width="0.0">0</text>
<text x="395.85" y="122.00" font-size="5.4" text-anchor="middle" font-weight="bold" fill="#222" stroke="#222" stroke-width="0.0">10</text>
<text x="419.40" y="122.00" font-size="5.4" text-anchor="middle" font-weight="bold" fill="#222" stroke="#222" stroke-width="0.0">20</text>
<text x="442.95" y="122.00" font-size="5.4" text-anchor="middle" font-weight="bold" fill="#222" stroke="#222" stroke-width="0.0">30</text>
<text x="466.50" y="122.00" font-size="5.4" text-anchor="middle" font-weight="bold" fill="#222" stroke="#222" stroke-width="0.0">40</text>
<text x="490.05" y="122.00" font-size="5.4" text-anchor="middle" font-weight="bold" fill="#222" stroke="#222" stroke-width="0.0">50</text>
<text x="513.60" y="122.00" font-size="5.4" text-anchor="middle" font-weight="bold" fill="#222" stroke="#222" stroke-width="0.0">60</text>
<text x="444.30" y="130.90" font-size="7.3" text-anchor="middle" font-weight="bold" fill="#111" stroke="#111" stroke-width="0.12">Frequency (Hz)</text>
<text x="358.70" y="66.40" font-size="7.6" text-anchor="middle" font-weight="bold" fill="#111" stroke="#111" stroke-width="0.12" transform="rotate(-90 358.70 66.40)">Power density (µV²/Hz)</text>
<rect x="524.0" y="38.5" width="15.3" height="12.0" fill="#5d5d5d" stroke="#222" stroke-width="1.2"/>
<text x="541.90" y="47.30" font-size="9.6" text-anchor="start" font-weight="normal" fill="#111" stroke="#111" stroke-width="0.12">3 mo WT</text>
<rect x="612.3" y="38.5" width="15.3" height="12.0" fill="#4cae80" stroke="#222" stroke-width="1.2"/>
<text x="630.00" y="47.30" font-size="9.6" text-anchor="start" font-weight="normal" fill="#111" stroke="#111" stroke-width="0.12">3 mo P301S</text>
<rect x="524.0" y="65.4" width="15.3" height="12.0" fill="#ecb536" stroke="#222" stroke-width="1.2"/>
<text x="541.90" y="74.20" font-size="9.6" text-anchor="start" font-weight="normal" fill="#111" stroke="#111" stroke-width="0.12">6 mo WT</text>
<rect x="612.3" y="65.4" width="15.3" height="12.0" fill="#4a87f6" stroke="#222" stroke-width="1.2"/>
<text x="630.00" y="74.20" font-size="9.6" text-anchor="start" font-weight="normal" fill="#111" stroke="#111" stroke-width="0.12">6 mo P301S</text>
<rect x="524.0" y="92.0" width="15.3" height="12.0" fill="#c571b0" stroke="#222" stroke-width="1.2"/>
<text x="541.90" y="100.80" font-size="9.6" text-anchor="start" font-weight="normal" fill="#111" stroke="#111" stroke-width="0.12">9 mo WT</text>
<rect x="612.3" y="92.0" width="15.3" height="12.0" fill="#f93214" stroke="#222" stroke-width="1.2"/>
<text x="630.00" y="100.80" font-size="9.6" text-anchor="start" font-weight="normal" fill="#111" stroke="#111" stroke-width="0.12">9 mo P301S</text>
</svg></body></html>
